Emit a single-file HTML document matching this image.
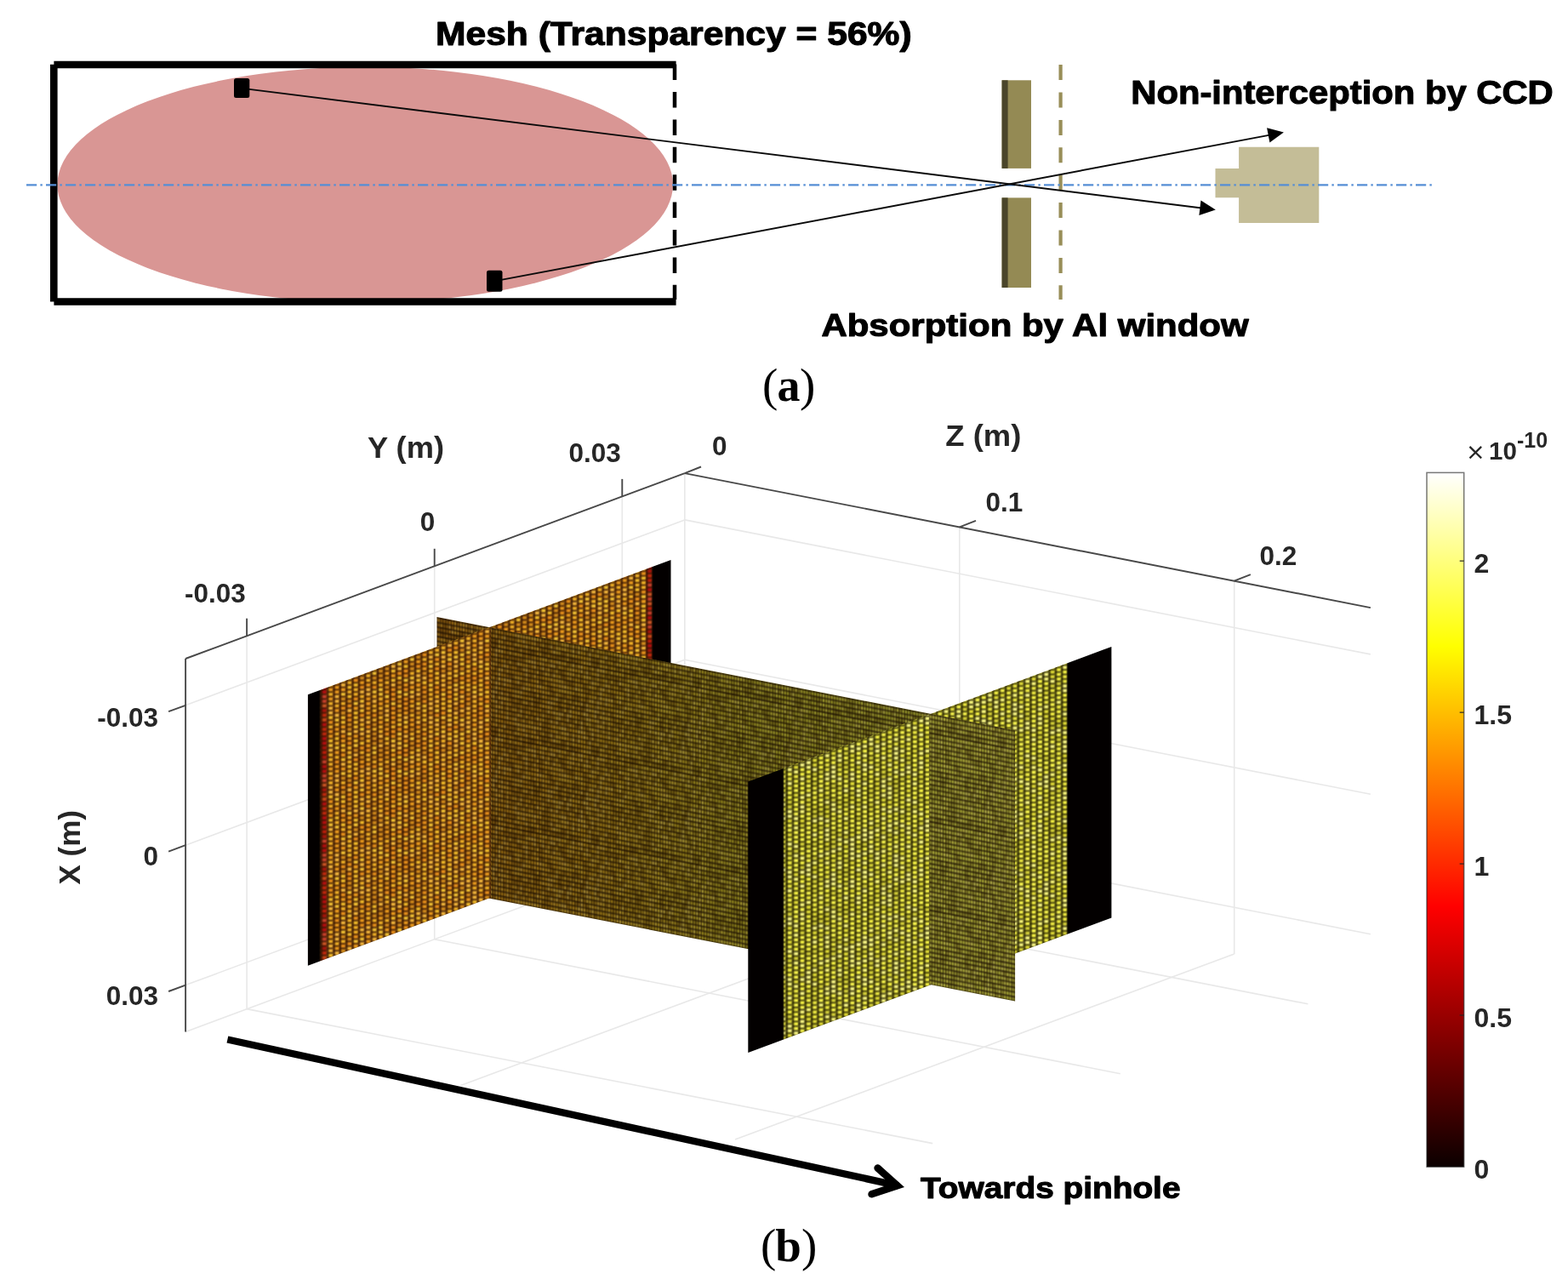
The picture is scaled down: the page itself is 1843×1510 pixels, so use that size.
<!DOCTYPE html>
<html lang="en"><head><meta charset="utf-8"><title>Figure</title>
<style>html,body{margin:0;padding:0;background:#fff;}svg{display:block;}.ab{font-family:"Liberation Sans",sans-serif;font-weight:bold;fill:#000;stroke:#000;stroke-width:1.1px;stroke-linejoin:round;}.ml{font-family:"Liberation Sans",sans-serif;font-weight:bold;fill:#262626;}.sr{font-family:"Liberation Serif",serif;fill:#000;}</style></head><body>
<svg width="1843" height="1510" viewBox="0 0 1843 1510" role="img" aria-label="Pinhole camera schematic and 3D mesh flux plot">
<rect width="1843" height="1510" fill="#fff"/>
<defs>
<linearGradient id="hot" x1="0" y1="1" x2="0" y2="0"><stop offset="0" stop-color="#0b0000"/><stop offset="0.375" stop-color="#ff0000"/><stop offset="0.75" stop-color="#ffff00"/><stop offset="1" stop-color="#ffffff"/></linearGradient>
<pattern id="mL" patternUnits="userSpaceOnUse" width="169.119" height="93.160" patternTransform="matrix(1 -0.3713 0 1 361.85 816.27)"><path d="M0.00 -6.85L7.35 -4.11V1.37L0.00 -1.37ZM0.00 9.59L7.35 12.33V17.81L0.00 15.07ZM0.00 58.91L7.35 61.65V67.13L0.00 64.39ZM0.00 64.39L7.35 67.13V72.61L0.00 69.87ZM0.00 86.31L7.35 89.05V94.53L0.00 91.79ZM7.35 20.55L14.71 23.29V28.77L7.35 26.03ZM7.35 53.43L14.71 56.17V61.65L7.35 58.91ZM14.71 31.51L22.06 34.25V39.73L14.71 36.99ZM22.06 31.51L29.41 34.25V39.73L22.06 36.99ZM22.06 58.91L29.41 61.65V67.13L22.06 64.39ZM29.41 58.91L36.77 61.65V67.13L29.41 64.39ZM36.77 -6.85L44.12 -4.11V1.37L36.77 -1.37ZM36.77 36.99L44.12 39.73V45.21L36.77 42.47ZM36.77 42.47L44.12 45.21V50.69L36.77 47.95ZM36.77 69.87L44.12 72.61V78.09L36.77 75.35ZM36.77 86.31L44.12 89.05V94.53L36.77 91.79ZM44.12 4.11L51.47 6.85V12.33L44.12 9.59ZM44.12 15.07L51.47 17.81V23.29L44.12 20.55ZM51.47 4.11L58.82 6.85V12.33L51.47 9.59ZM51.47 36.99L58.82 39.73V45.21L51.47 42.47ZM51.47 42.47L58.82 45.21V50.69L51.47 47.95ZM51.47 47.95L58.82 50.69V56.17L51.47 53.43ZM51.47 53.43L58.82 56.17V61.65L51.47 58.91ZM51.47 69.87L58.82 72.61V78.09L51.47 75.35ZM58.82 75.35L66.18 78.09V83.57L58.82 80.83ZM73.53 -6.85L80.88 -4.11V1.37L73.53 -1.37ZM73.53 86.31L80.88 89.05V94.53L73.53 91.79ZM88.24 58.91L95.59 61.65V67.13L88.24 64.39ZM88.24 80.83L95.59 83.57V89.05L88.24 86.31ZM95.59 4.11L102.94 6.85V12.33L95.59 9.59ZM95.59 15.07L102.94 17.81V23.29L95.59 20.55ZM102.94 15.07L110.30 17.81V23.29L102.94 20.55ZM102.94 69.87L110.30 72.61V78.09L102.94 75.35ZM110.30 4.11L117.65 6.85V12.33L110.30 9.59ZM125.00 15.07L132.35 17.81V23.29L125.00 20.55ZM125.00 26.03L132.35 28.77V34.25L125.00 31.51ZM125.00 53.43L132.35 56.17V61.65L125.00 58.91ZM132.35 31.51L139.71 34.25V39.73L132.35 36.99ZM132.35 58.91L139.71 61.65V67.13L132.35 64.39ZM132.35 64.39L139.71 67.13V72.61L132.35 69.87ZM132.35 75.35L139.71 78.09V83.57L132.35 80.83ZM139.71 42.47L147.06 45.21V50.69L139.71 47.95ZM147.06 26.03L154.41 28.77V34.25L147.06 31.51ZM147.06 36.99L154.41 39.73V45.21L147.06 42.47ZM147.06 80.83L154.41 83.57V89.05L147.06 86.31ZM154.41 64.39L161.77 67.13V72.61L154.41 69.87Z" fill="rgba(250,215,50,0.30)"/><path d="M0.00 4.11L7.35 6.85V12.33L0.00 9.59ZM7.35 42.47L14.71 45.21V50.69L7.35 47.95ZM7.35 58.91L14.71 61.65V67.13L7.35 64.39ZM7.35 75.35L14.71 78.09V83.57L7.35 80.83ZM14.71 69.87L22.06 72.61V78.09L14.71 75.35ZM22.06 36.99L29.41 39.73V45.21L22.06 42.47ZM22.06 47.95L29.41 50.69V56.17L22.06 53.43ZM29.41 -6.85L36.77 -4.11V1.37L29.41 -1.37ZM29.41 86.31L36.77 89.05V94.53L29.41 91.79ZM36.77 26.03L44.12 28.77V34.25L36.77 31.51ZM36.77 58.91L44.12 61.65V67.13L36.77 64.39ZM36.77 80.83L44.12 83.57V89.05L36.77 86.31ZM44.12 26.03L51.47 28.77V34.25L44.12 31.51ZM44.12 36.99L51.47 39.73V45.21L44.12 42.47ZM44.12 42.47L51.47 45.21V50.69L44.12 47.95ZM44.12 69.87L51.47 72.61V78.09L44.12 75.35ZM51.47 -1.37L58.82 1.37V6.85L51.47 4.11ZM51.47 20.55L58.82 23.29V28.77L51.47 26.03ZM51.47 91.79L58.82 94.53V100.01L51.47 97.27ZM58.82 9.59L66.18 12.33V17.81L58.82 15.07ZM58.82 42.47L66.18 45.21V50.69L58.82 47.95ZM58.82 80.83L66.18 83.57V89.05L58.82 86.31ZM66.18 -6.85L73.53 -4.11V1.37L66.18 -1.37ZM66.18 58.91L73.53 61.65V67.13L66.18 64.39ZM66.18 86.31L73.53 89.05V94.53L66.18 91.79ZM73.53 15.07L80.88 17.81V23.29L73.53 20.55ZM73.53 47.95L80.88 50.69V56.17L73.53 53.43ZM88.24 75.35L95.59 78.09V83.57L88.24 80.83ZM95.59 26.03L102.94 28.77V34.25L95.59 31.51ZM95.59 31.51L102.94 34.25V39.73L95.59 36.99ZM95.59 36.99L102.94 39.73V45.21L95.59 42.47ZM95.59 47.95L102.94 50.69V56.17L95.59 53.43ZM95.59 58.91L102.94 61.65V67.13L95.59 64.39ZM95.59 75.35L102.94 78.09V83.57L95.59 80.83ZM95.59 80.83L102.94 83.57V89.05L95.59 86.31ZM102.94 9.59L110.30 12.33V17.81L102.94 15.07ZM102.94 75.35L110.30 78.09V83.57L102.94 80.83ZM110.30 9.59L117.65 12.33V17.81L110.30 15.07ZM110.30 15.07L117.65 17.81V23.29L110.30 20.55ZM110.30 31.51L117.65 34.25V39.73L110.30 36.99ZM110.30 42.47L117.65 45.21V50.69L110.30 47.95ZM110.30 47.95L117.65 50.69V56.17L110.30 53.43ZM110.30 53.43L117.65 56.17V61.65L110.30 58.91ZM125.00 9.59L132.35 12.33V17.81L125.00 15.07ZM125.00 80.83L132.35 83.57V89.05L125.00 86.31ZM132.35 -1.37L139.71 1.37V6.85L132.35 4.11ZM132.35 9.59L139.71 12.33V17.81L132.35 15.07ZM132.35 42.47L139.71 45.21V50.69L132.35 47.95ZM132.35 53.43L139.71 56.17V61.65L132.35 58.91ZM132.35 91.79L139.71 94.53V100.01L132.35 97.27ZM147.06 9.59L154.41 12.33V17.81L147.06 15.07ZM147.06 20.55L154.41 23.29V28.77L147.06 26.03ZM147.06 42.47L154.41 45.21V50.69L147.06 47.95ZM147.06 75.35L154.41 78.09V83.57L147.06 80.83ZM154.41 75.35L161.77 78.09V83.57L154.41 80.83ZM161.77 4.11L169.12 6.85V12.33L161.77 9.59ZM161.77 20.55L169.12 23.29V28.77L161.77 26.03ZM161.77 58.91L169.12 61.65V67.13L161.77 64.39Z" fill="rgba(215,70,0,0.30)"/><path d="M0.00 15.07L7.35 17.81V23.29L0.00 20.55ZM0.00 36.99L7.35 39.73V45.21L0.00 42.47ZM0.00 47.95L7.35 50.69V56.17L0.00 53.43ZM7.35 -1.37L14.71 1.37V6.85L7.35 4.11ZM7.35 15.07L14.71 17.81V23.29L7.35 20.55ZM7.35 26.03L14.71 28.77V34.25L7.35 31.51ZM7.35 36.99L14.71 39.73V45.21L7.35 42.47ZM7.35 91.79L14.71 94.53V100.01L7.35 97.27ZM14.71 15.07L22.06 17.81V23.29L14.71 20.55ZM22.06 64.39L29.41 67.13V72.61L22.06 69.87ZM29.41 36.99L36.77 39.73V45.21L29.41 42.47ZM29.41 69.87L36.77 72.61V78.09L29.41 75.35ZM36.77 9.59L44.12 12.33V17.81L36.77 15.07ZM44.12 -6.85L51.47 -4.11V1.37L44.12 -1.37ZM44.12 58.91L51.47 61.65V67.13L44.12 64.39ZM44.12 86.31L51.47 89.05V94.53L44.12 91.79ZM51.47 26.03L58.82 28.77V34.25L51.47 31.51ZM51.47 75.35L58.82 78.09V83.57L51.47 80.83ZM58.82 26.03L66.18 28.77V34.25L58.82 31.51ZM58.82 36.99L66.18 39.73V45.21L58.82 42.47ZM58.82 58.91L66.18 61.65V67.13L58.82 64.39ZM73.53 -1.37L80.88 1.37V6.85L73.53 4.11ZM73.53 20.55L80.88 23.29V28.77L73.53 26.03ZM73.53 91.79L80.88 94.53V100.01L73.53 97.27ZM80.88 20.55L88.24 23.29V28.77L80.88 26.03ZM80.88 26.03L88.24 28.77V34.25L80.88 31.51ZM88.24 31.51L95.59 34.25V39.73L88.24 36.99ZM95.59 -6.85L102.94 -4.11V1.37L95.59 -1.37ZM95.59 42.47L102.94 45.21V50.69L95.59 47.95ZM95.59 86.31L102.94 89.05V94.53L95.59 91.79ZM102.94 -1.37L110.30 1.37V6.85L102.94 4.11ZM102.94 31.51L110.30 34.25V39.73L102.94 36.99ZM102.94 80.83L110.30 83.57V89.05L102.94 86.31ZM102.94 91.79L110.30 94.53V100.01L102.94 97.27ZM110.30 20.55L117.65 23.29V28.77L110.30 26.03ZM110.30 36.99L117.65 39.73V45.21L110.30 42.47ZM110.30 69.87L117.65 72.61V78.09L110.30 75.35ZM117.65 -1.37L125.00 1.37V6.85L117.65 4.11ZM117.65 20.55L125.00 23.29V28.77L117.65 26.03ZM117.65 36.99L125.00 39.73V45.21L117.65 42.47ZM117.65 91.79L125.00 94.53V100.01L117.65 97.27ZM139.71 15.07L147.06 17.81V23.29L139.71 20.55ZM139.71 36.99L147.06 39.73V45.21L139.71 42.47ZM147.06 4.11L154.41 6.85V12.33L147.06 9.59ZM147.06 69.87L154.41 72.61V78.09L147.06 75.35ZM154.41 4.11L161.77 6.85V12.33L154.41 9.59ZM154.41 53.43L161.77 56.17V61.65L154.41 58.91ZM154.41 80.83L161.77 83.57V89.05L154.41 86.31ZM161.77 -6.85L169.12 -4.11V1.37L161.77 -1.37ZM161.77 15.07L169.12 17.81V23.29L161.77 20.55ZM161.77 75.35L169.12 78.09V83.57L161.77 80.83ZM161.77 86.31L169.12 89.05V94.53L161.77 91.79Z" fill="rgba(255,235,80,0.34)"/><path d="M0.00 20.55L7.35 23.29V28.77L0.00 26.03ZM0.00 26.03L7.35 28.77V34.25L0.00 31.51ZM0.00 53.43L7.35 56.17V61.65L0.00 58.91ZM0.00 69.87L7.35 72.61V78.09L0.00 75.35ZM0.00 80.83L7.35 83.57V89.05L0.00 86.31ZM7.35 4.11L14.71 6.85V12.33L7.35 9.59ZM7.35 64.39L14.71 67.13V72.61L7.35 69.87ZM7.35 80.83L14.71 83.57V89.05L7.35 86.31ZM14.71 4.11L22.06 6.85V12.33L14.71 9.59ZM14.71 9.59L22.06 12.33V17.81L14.71 15.07ZM14.71 80.83L22.06 83.57V89.05L14.71 86.31ZM22.06 20.55L29.41 23.29V28.77L22.06 26.03ZM22.06 26.03L29.41 28.77V34.25L22.06 31.51ZM22.06 69.87L29.41 72.61V78.09L22.06 75.35ZM29.41 9.59L36.77 12.33V17.81L29.41 15.07ZM29.41 15.07L36.77 17.81V23.29L29.41 20.55ZM29.41 31.51L36.77 34.25V39.73L29.41 36.99ZM36.77 -1.37L44.12 1.37V6.85L36.77 4.11ZM36.77 53.43L44.12 56.17V61.65L36.77 58.91ZM36.77 91.79L44.12 94.53V100.01L36.77 97.27ZM44.12 31.51L51.47 34.25V39.73L44.12 36.99ZM51.47 -6.85L58.82 -4.11V1.37L51.47 -1.37ZM51.47 58.91L58.82 61.65V67.13L51.47 64.39ZM51.47 86.31L58.82 89.05V94.53L51.47 91.79ZM58.82 15.07L66.18 17.81V23.29L58.82 20.55ZM58.82 31.51L66.18 34.25V39.73L58.82 36.99ZM58.82 47.95L66.18 50.69V56.17L58.82 53.43ZM58.82 64.39L66.18 67.13V72.61L58.82 69.87ZM66.18 15.07L73.53 17.81V23.29L66.18 20.55ZM66.18 20.55L73.53 23.29V28.77L66.18 26.03ZM66.18 53.43L73.53 56.17V61.65L66.18 58.91ZM66.18 64.39L73.53 67.13V72.61L66.18 69.87ZM73.53 31.51L80.88 34.25V39.73L73.53 36.99ZM80.88 -6.85L88.24 -4.11V1.37L80.88 -1.37ZM80.88 75.35L88.24 78.09V83.57L80.88 80.83ZM80.88 86.31L88.24 89.05V94.53L80.88 91.79ZM88.24 47.95L95.59 50.69V56.17L88.24 53.43ZM88.24 53.43L95.59 56.17V61.65L88.24 58.91ZM95.59 -1.37L102.94 1.37V6.85L95.59 4.11ZM95.59 20.55L102.94 23.29V28.77L95.59 26.03ZM95.59 91.79L102.94 94.53V100.01L95.59 97.27ZM102.94 4.11L110.30 6.85V12.33L102.94 9.59ZM110.30 -6.85L117.65 -4.11V1.37L110.30 -1.37ZM110.30 64.39L117.65 67.13V72.61L110.30 69.87ZM110.30 86.31L117.65 89.05V94.53L110.30 91.79ZM117.65 26.03L125.00 28.77V34.25L117.65 31.51ZM117.65 42.47L125.00 45.21V50.69L117.65 47.95ZM125.00 20.55L132.35 23.29V28.77L125.00 26.03ZM125.00 42.47L132.35 45.21V50.69L125.00 47.95ZM125.00 58.91L132.35 61.65V67.13L125.00 64.39ZM125.00 75.35L132.35 78.09V83.57L125.00 80.83ZM132.35 26.03L139.71 28.77V34.25L132.35 31.51ZM139.71 4.11L147.06 6.85V12.33L139.71 9.59ZM139.71 58.91L147.06 61.65V67.13L139.71 64.39ZM139.71 64.39L147.06 67.13V72.61L139.71 69.87ZM139.71 75.35L147.06 78.09V83.57L139.71 80.83ZM139.71 80.83L147.06 83.57V89.05L139.71 86.31ZM147.06 -6.85L154.41 -4.11V1.37L147.06 -1.37ZM147.06 58.91L154.41 61.65V67.13L147.06 64.39ZM147.06 86.31L154.41 89.05V94.53L147.06 91.79ZM154.41 9.59L161.77 12.33V17.81L154.41 15.07ZM154.41 20.55L161.77 23.29V28.77L154.41 26.03ZM154.41 31.51L161.77 34.25V39.73L154.41 36.99ZM154.41 42.47L161.77 45.21V50.69L154.41 47.95ZM161.77 -1.37L169.12 1.37V6.85L161.77 4.11ZM161.77 91.79L169.12 94.53V100.01L161.77 97.27Z" fill="rgba(255,200,120,0.28)"/><path d="M0.00 42.47L7.35 45.21V50.69L0.00 47.95ZM0.00 75.35L7.35 78.09V83.57L0.00 80.83ZM7.35 -6.85L14.71 -4.11V1.37L7.35 -1.37ZM7.35 9.59L14.71 12.33V17.81L7.35 15.07ZM7.35 31.51L14.71 34.25V39.73L7.35 36.99ZM7.35 86.31L14.71 89.05V94.53L7.35 91.79ZM14.71 20.55L22.06 23.29V28.77L14.71 26.03ZM14.71 64.39L22.06 67.13V72.61L14.71 69.87ZM14.71 75.35L22.06 78.09V83.57L14.71 80.83ZM36.77 15.07L44.12 17.81V23.29L36.77 20.55ZM36.77 31.51L44.12 34.25V39.73L36.77 36.99ZM44.12 20.55L51.47 23.29V28.77L44.12 26.03ZM44.12 47.95L51.47 50.69V56.17L44.12 53.43ZM44.12 53.43L51.47 56.17V61.65L44.12 58.91ZM51.47 80.83L58.82 83.57V89.05L51.47 86.31ZM58.82 -1.37L66.18 1.37V6.85L58.82 4.11ZM58.82 69.87L66.18 72.61V78.09L58.82 75.35ZM58.82 91.79L66.18 94.53V100.01L58.82 97.27ZM73.53 4.11L80.88 6.85V12.33L73.53 9.59ZM73.53 58.91L80.88 61.65V67.13L73.53 64.39ZM73.53 69.87L80.88 72.61V78.09L73.53 75.35ZM73.53 75.35L80.88 78.09V83.57L73.53 80.83ZM73.53 80.83L80.88 83.57V89.05L73.53 86.31ZM80.88 -1.37L88.24 1.37V6.85L80.88 4.11ZM80.88 4.11L88.24 6.85V12.33L80.88 9.59ZM80.88 47.95L88.24 50.69V56.17L80.88 53.43ZM80.88 80.83L88.24 83.57V89.05L80.88 86.31ZM80.88 91.79L88.24 94.53V100.01L80.88 97.27ZM88.24 -1.37L95.59 1.37V6.85L88.24 4.11ZM88.24 9.59L95.59 12.33V17.81L88.24 15.07ZM88.24 20.55L95.59 23.29V28.77L88.24 26.03ZM88.24 64.39L95.59 67.13V72.61L88.24 69.87ZM88.24 91.79L95.59 94.53V100.01L88.24 97.27ZM102.94 20.55L110.30 23.29V28.77L102.94 26.03ZM102.94 26.03L110.30 28.77V34.25L102.94 31.51ZM102.94 42.47L110.30 45.21V50.69L102.94 47.95ZM102.94 53.43L110.30 56.17V61.65L102.94 58.91ZM117.65 4.11L125.00 6.85V12.33L117.65 9.59ZM117.65 9.59L125.00 12.33V17.81L117.65 15.07ZM117.65 58.91L125.00 61.65V67.13L117.65 64.39ZM117.65 80.83L125.00 83.57V89.05L117.65 86.31ZM125.00 -1.37L132.35 1.37V6.85L125.00 4.11ZM125.00 47.95L132.35 50.69V56.17L125.00 53.43ZM125.00 64.39L132.35 67.13V72.61L125.00 69.87ZM125.00 91.79L132.35 94.53V100.01L125.00 97.27ZM132.35 20.55L139.71 23.29V28.77L132.35 26.03ZM132.35 47.95L139.71 50.69V56.17L132.35 53.43ZM132.35 80.83L139.71 83.57V89.05L132.35 86.31ZM139.71 69.87L147.06 72.61V78.09L139.71 75.35ZM154.41 -6.85L161.77 -4.11V1.37L154.41 -1.37ZM154.41 26.03L161.77 28.77V34.25L154.41 31.51ZM154.41 86.31L161.77 89.05V94.53L154.41 91.79ZM161.77 26.03L169.12 28.77V34.25L161.77 31.51ZM161.77 42.47L169.12 45.21V50.69L161.77 47.95Z" fill="rgba(130,40,0,0.28)"/><path d="M14.71 26.03L22.06 28.77V34.25L14.71 31.51ZM14.71 42.47L22.06 45.21V50.69L14.71 47.95ZM14.71 47.95L22.06 50.69V56.17L14.71 53.43ZM22.06 -1.37L29.41 1.37V6.85L22.06 4.11ZM22.06 9.59L29.41 12.33V17.81L22.06 15.07ZM22.06 53.43L29.41 56.17V61.65L22.06 58.91ZM22.06 91.79L29.41 94.53V100.01L22.06 97.27ZM29.41 -1.37L36.77 1.37V6.85L29.41 4.11ZM29.41 4.11L36.77 6.85V12.33L29.41 9.59ZM29.41 26.03L36.77 28.77V34.25L29.41 31.51ZM29.41 47.95L36.77 50.69V56.17L29.41 53.43ZM29.41 75.35L36.77 78.09V83.57L29.41 80.83ZM29.41 91.79L36.77 94.53V100.01L29.41 97.27ZM36.77 4.11L44.12 6.85V12.33L36.77 9.59ZM36.77 47.95L44.12 50.69V56.17L36.77 53.43ZM36.77 64.39L44.12 67.13V72.61L36.77 69.87ZM44.12 64.39L51.47 67.13V72.61L44.12 69.87ZM51.47 31.51L58.82 34.25V39.73L51.47 36.99ZM51.47 64.39L58.82 67.13V72.61L51.47 69.87ZM58.82 4.11L66.18 6.85V12.33L58.82 9.59ZM66.18 9.59L73.53 12.33V17.81L66.18 15.07ZM66.18 26.03L73.53 28.77V34.25L66.18 31.51ZM66.18 31.51L73.53 34.25V39.73L66.18 36.99ZM66.18 36.99L73.53 39.73V45.21L66.18 42.47ZM66.18 42.47L73.53 45.21V50.69L66.18 47.95ZM66.18 80.83L73.53 83.57V89.05L66.18 86.31ZM80.88 9.59L88.24 12.33V17.81L80.88 15.07ZM80.88 36.99L88.24 39.73V45.21L80.88 42.47ZM80.88 58.91L88.24 61.65V67.13L80.88 64.39ZM88.24 4.11L95.59 6.85V12.33L88.24 9.59ZM88.24 26.03L95.59 28.77V34.25L88.24 31.51ZM88.24 36.99L95.59 39.73V45.21L88.24 42.47ZM88.24 69.87L95.59 72.61V78.09L88.24 75.35ZM95.59 9.59L102.94 12.33V17.81L95.59 15.07ZM95.59 53.43L102.94 56.17V61.65L95.59 58.91ZM95.59 64.39L102.94 67.13V72.61L95.59 69.87ZM110.30 -1.37L117.65 1.37V6.85L110.30 4.11ZM110.30 26.03L117.65 28.77V34.25L110.30 31.51ZM110.30 58.91L117.65 61.65V67.13L110.30 64.39ZM110.30 80.83L117.65 83.57V89.05L110.30 86.31ZM110.30 91.79L117.65 94.53V100.01L110.30 97.27ZM117.65 31.51L125.00 34.25V39.73L117.65 36.99ZM117.65 47.95L125.00 50.69V56.17L117.65 53.43ZM117.65 69.87L125.00 72.61V78.09L117.65 75.35ZM117.65 75.35L125.00 78.09V83.57L117.65 80.83ZM125.00 4.11L132.35 6.85V12.33L125.00 9.59ZM125.00 31.51L132.35 34.25V39.73L125.00 36.99ZM132.35 15.07L139.71 17.81V23.29L132.35 20.55ZM132.35 36.99L139.71 39.73V45.21L132.35 42.47ZM139.71 26.03L147.06 28.77V34.25L139.71 31.51ZM139.71 31.51L147.06 34.25V39.73L139.71 36.99ZM147.06 47.95L154.41 50.69V56.17L147.06 53.43ZM154.41 47.95L161.77 50.69V56.17L154.41 53.43ZM161.77 53.43L169.12 56.17V61.65L161.77 58.91Z" fill="rgba(225,105,5,0.30)"/><path d="M1.25 -5.48V98.64M8.60 -5.48V98.64M15.96 -5.48V98.64M23.31 -5.48V98.64M30.66 -5.48V98.64M38.02 -5.48V98.64M45.37 -5.48V98.64M52.72 -5.48V98.64M60.07 -5.48V98.64M67.43 -5.48V98.64M74.78 -5.48V98.64M82.13 -5.48V98.64M89.49 -5.48V98.64M96.84 -5.48V98.64M104.19 -5.48V98.64M111.55 -5.48V98.64M118.90 -5.48V98.64M126.25 -5.48V98.64M133.60 -5.48V98.64M140.96 -5.48V98.64M148.31 -5.48V98.64M155.66 -5.48V98.64M163.02 -5.48V98.64" stroke="rgba(55,20,2,0.88)" stroke-width="2.50" fill="none"/><path d="M0.00 -5.92L7.35 -3.19M7.35 -5.92L14.71 -3.19M14.71 -5.92L22.06 -3.19M22.06 -5.92L29.41 -3.19M29.41 -5.92L36.77 -3.19M36.77 -5.92L44.12 -3.19M44.12 -5.92L51.47 -3.19M51.47 -5.92L58.82 -3.19M58.82 -5.92L66.18 -3.19M66.18 -5.92L73.53 -3.19M73.53 -5.92L80.88 -3.19M80.88 -5.92L88.24 -3.19M88.24 -5.92L95.59 -3.19M95.59 -5.92L102.94 -3.19M102.94 -5.92L110.30 -3.19M110.30 -5.92L117.65 -3.19M117.65 -5.92L125.00 -3.19M125.00 -5.92L132.35 -3.19M132.35 -5.92L139.71 -3.19M139.71 -5.92L147.06 -3.19M147.06 -5.92L154.41 -3.19M154.41 -5.92L161.77 -3.19M161.77 -5.92L169.12 -3.19M0.00 -0.44L7.35 2.29M7.35 -0.44L14.71 2.29M14.71 -0.44L22.06 2.29M22.06 -0.44L29.41 2.29M29.41 -0.44L36.77 2.29M36.77 -0.44L44.12 2.29M44.12 -0.44L51.47 2.29M51.47 -0.44L58.82 2.29M58.82 -0.44L66.18 2.29M66.18 -0.44L73.53 2.29M73.53 -0.44L80.88 2.29M80.88 -0.44L88.24 2.29M88.24 -0.44L95.59 2.29M95.59 -0.44L102.94 2.29M102.94 -0.44L110.30 2.29M110.30 -0.44L117.65 2.29M117.65 -0.44L125.00 2.29M125.00 -0.44L132.35 2.29M132.35 -0.44L139.71 2.29M139.71 -0.44L147.06 2.29M147.06 -0.44L154.41 2.29M154.41 -0.44L161.77 2.29M161.77 -0.44L169.12 2.29M0.00 5.04L7.35 7.77M7.35 5.04L14.71 7.77M14.71 5.04L22.06 7.77M22.06 5.04L29.41 7.77M29.41 5.04L36.77 7.77M36.77 5.04L44.12 7.77M44.12 5.04L51.47 7.77M51.47 5.04L58.82 7.77M58.82 5.04L66.18 7.77M66.18 5.04L73.53 7.77M73.53 5.04L80.88 7.77M80.88 5.04L88.24 7.77M88.24 5.04L95.59 7.77M95.59 5.04L102.94 7.77M102.94 5.04L110.30 7.77M110.30 5.04L117.65 7.77M117.65 5.04L125.00 7.77M125.00 5.04L132.35 7.77M132.35 5.04L139.71 7.77M139.71 5.04L147.06 7.77M147.06 5.04L154.41 7.77M154.41 5.04L161.77 7.77M161.77 5.04L169.12 7.77M0.00 10.52L7.35 13.25M7.35 10.52L14.71 13.25M14.71 10.52L22.06 13.25M22.06 10.52L29.41 13.25M29.41 10.52L36.77 13.25M36.77 10.52L44.12 13.25M44.12 10.52L51.47 13.25M51.47 10.52L58.82 13.25M58.82 10.52L66.18 13.25M66.18 10.52L73.53 13.25M73.53 10.52L80.88 13.25M80.88 10.52L88.24 13.25M88.24 10.52L95.59 13.25M95.59 10.52L102.94 13.25M102.94 10.52L110.30 13.25M110.30 10.52L117.65 13.25M117.65 10.52L125.00 13.25M125.00 10.52L132.35 13.25M132.35 10.52L139.71 13.25M139.71 10.52L147.06 13.25M147.06 10.52L154.41 13.25M154.41 10.52L161.77 13.25M161.77 10.52L169.12 13.25M0.00 16.00L7.35 18.73M7.35 16.00L14.71 18.73M14.71 16.00L22.06 18.73M22.06 16.00L29.41 18.73M29.41 16.00L36.77 18.73M36.77 16.00L44.12 18.73M44.12 16.00L51.47 18.73M51.47 16.00L58.82 18.73M58.82 16.00L66.18 18.73M66.18 16.00L73.53 18.73M73.53 16.00L80.88 18.73M80.88 16.00L88.24 18.73M88.24 16.00L95.59 18.73M95.59 16.00L102.94 18.73M102.94 16.00L110.30 18.73M110.30 16.00L117.65 18.73M117.65 16.00L125.00 18.73M125.00 16.00L132.35 18.73M132.35 16.00L139.71 18.73M139.71 16.00L147.06 18.73M147.06 16.00L154.41 18.73M154.41 16.00L161.77 18.73M161.77 16.00L169.12 18.73M0.00 21.48L7.35 24.21M7.35 21.48L14.71 24.21M14.71 21.48L22.06 24.21M22.06 21.48L29.41 24.21M29.41 21.48L36.77 24.21M36.77 21.48L44.12 24.21M44.12 21.48L51.47 24.21M51.47 21.48L58.82 24.21M58.82 21.48L66.18 24.21M66.18 21.48L73.53 24.21M73.53 21.48L80.88 24.21M80.88 21.48L88.24 24.21M88.24 21.48L95.59 24.21M95.59 21.48L102.94 24.21M102.94 21.48L110.30 24.21M110.30 21.48L117.65 24.21M117.65 21.48L125.00 24.21M125.00 21.48L132.35 24.21M132.35 21.48L139.71 24.21M139.71 21.48L147.06 24.21M147.06 21.48L154.41 24.21M154.41 21.48L161.77 24.21M161.77 21.48L169.12 24.21M0.00 26.96L7.35 29.69M7.35 26.96L14.71 29.69M14.71 26.96L22.06 29.69M22.06 26.96L29.41 29.69M29.41 26.96L36.77 29.69M36.77 26.96L44.12 29.69M44.12 26.96L51.47 29.69M51.47 26.96L58.82 29.69M58.82 26.96L66.18 29.69M66.18 26.96L73.53 29.69M73.53 26.96L80.88 29.69M80.88 26.96L88.24 29.69M88.24 26.96L95.59 29.69M95.59 26.96L102.94 29.69M102.94 26.96L110.30 29.69M110.30 26.96L117.65 29.69M117.65 26.96L125.00 29.69M125.00 26.96L132.35 29.69M132.35 26.96L139.71 29.69M139.71 26.96L147.06 29.69M147.06 26.96L154.41 29.69M154.41 26.96L161.77 29.69M161.77 26.96L169.12 29.69M0.00 32.44L7.35 35.17M7.35 32.44L14.71 35.17M14.71 32.44L22.06 35.17M22.06 32.44L29.41 35.17M29.41 32.44L36.77 35.17M36.77 32.44L44.12 35.17M44.12 32.44L51.47 35.17M51.47 32.44L58.82 35.17M58.82 32.44L66.18 35.17M66.18 32.44L73.53 35.17M73.53 32.44L80.88 35.17M80.88 32.44L88.24 35.17M88.24 32.44L95.59 35.17M95.59 32.44L102.94 35.17M102.94 32.44L110.30 35.17M110.30 32.44L117.65 35.17M117.65 32.44L125.00 35.17M125.00 32.44L132.35 35.17M132.35 32.44L139.71 35.17M139.71 32.44L147.06 35.17M147.06 32.44L154.41 35.17M154.41 32.44L161.77 35.17M161.77 32.44L169.12 35.17M0.00 37.92L7.35 40.65M7.35 37.92L14.71 40.65M14.71 37.92L22.06 40.65M22.06 37.92L29.41 40.65M29.41 37.92L36.77 40.65M36.77 37.92L44.12 40.65M44.12 37.92L51.47 40.65M51.47 37.92L58.82 40.65M58.82 37.92L66.18 40.65M66.18 37.92L73.53 40.65M73.53 37.92L80.88 40.65M80.88 37.92L88.24 40.65M88.24 37.92L95.59 40.65M95.59 37.92L102.94 40.65M102.94 37.92L110.30 40.65M110.30 37.92L117.65 40.65M117.65 37.92L125.00 40.65M125.00 37.92L132.35 40.65M132.35 37.92L139.71 40.65M139.71 37.92L147.06 40.65M147.06 37.92L154.41 40.65M154.41 37.92L161.77 40.65M161.77 37.92L169.12 40.65M0.00 43.40L7.35 46.13M7.35 43.40L14.71 46.13M14.71 43.40L22.06 46.13M22.06 43.40L29.41 46.13M29.41 43.40L36.77 46.13M36.77 43.40L44.12 46.13M44.12 43.40L51.47 46.13M51.47 43.40L58.82 46.13M58.82 43.40L66.18 46.13M66.18 43.40L73.53 46.13M73.53 43.40L80.88 46.13M80.88 43.40L88.24 46.13M88.24 43.40L95.59 46.13M95.59 43.40L102.94 46.13M102.94 43.40L110.30 46.13M110.30 43.40L117.65 46.13M117.65 43.40L125.00 46.13M125.00 43.40L132.35 46.13M132.35 43.40L139.71 46.13M139.71 43.40L147.06 46.13M147.06 43.40L154.41 46.13M154.41 43.40L161.77 46.13M161.77 43.40L169.12 46.13M0.00 48.88L7.35 51.61M7.35 48.88L14.71 51.61M14.71 48.88L22.06 51.61M22.06 48.88L29.41 51.61M29.41 48.88L36.77 51.61M36.77 48.88L44.12 51.61M44.12 48.88L51.47 51.61M51.47 48.88L58.82 51.61M58.82 48.88L66.18 51.61M66.18 48.88L73.53 51.61M73.53 48.88L80.88 51.61M80.88 48.88L88.24 51.61M88.24 48.88L95.59 51.61M95.59 48.88L102.94 51.61M102.94 48.88L110.30 51.61M110.30 48.88L117.65 51.61M117.65 48.88L125.00 51.61M125.00 48.88L132.35 51.61M132.35 48.88L139.71 51.61M139.71 48.88L147.06 51.61M147.06 48.88L154.41 51.61M154.41 48.88L161.77 51.61M161.77 48.88L169.12 51.61M0.00 54.36L7.35 57.09M7.35 54.36L14.71 57.09M14.71 54.36L22.06 57.09M22.06 54.36L29.41 57.09M29.41 54.36L36.77 57.09M36.77 54.36L44.12 57.09M44.12 54.36L51.47 57.09M51.47 54.36L58.82 57.09M58.82 54.36L66.18 57.09M66.18 54.36L73.53 57.09M73.53 54.36L80.88 57.09M80.88 54.36L88.24 57.09M88.24 54.36L95.59 57.09M95.59 54.36L102.94 57.09M102.94 54.36L110.30 57.09M110.30 54.36L117.65 57.09M117.65 54.36L125.00 57.09M125.00 54.36L132.35 57.09M132.35 54.36L139.71 57.09M139.71 54.36L147.06 57.09M147.06 54.36L154.41 57.09M154.41 54.36L161.77 57.09M161.77 54.36L169.12 57.09M0.00 59.84L7.35 62.57M7.35 59.84L14.71 62.57M14.71 59.84L22.06 62.57M22.06 59.84L29.41 62.57M29.41 59.84L36.77 62.57M36.77 59.84L44.12 62.57M44.12 59.84L51.47 62.57M51.47 59.84L58.82 62.57M58.82 59.84L66.18 62.57M66.18 59.84L73.53 62.57M73.53 59.84L80.88 62.57M80.88 59.84L88.24 62.57M88.24 59.84L95.59 62.57M95.59 59.84L102.94 62.57M102.94 59.84L110.30 62.57M110.30 59.84L117.65 62.57M117.65 59.84L125.00 62.57M125.00 59.84L132.35 62.57M132.35 59.84L139.71 62.57M139.71 59.84L147.06 62.57M147.06 59.84L154.41 62.57M154.41 59.84L161.77 62.57M161.77 59.84L169.12 62.57M0.00 65.32L7.35 68.05M7.35 65.32L14.71 68.05M14.71 65.32L22.06 68.05M22.06 65.32L29.41 68.05M29.41 65.32L36.77 68.05M36.77 65.32L44.12 68.05M44.12 65.32L51.47 68.05M51.47 65.32L58.82 68.05M58.82 65.32L66.18 68.05M66.18 65.32L73.53 68.05M73.53 65.32L80.88 68.05M80.88 65.32L88.24 68.05M88.24 65.32L95.59 68.05M95.59 65.32L102.94 68.05M102.94 65.32L110.30 68.05M110.30 65.32L117.65 68.05M117.65 65.32L125.00 68.05M125.00 65.32L132.35 68.05M132.35 65.32L139.71 68.05M139.71 65.32L147.06 68.05M147.06 65.32L154.41 68.05M154.41 65.32L161.77 68.05M161.77 65.32L169.12 68.05M0.00 70.80L7.35 73.53M7.35 70.80L14.71 73.53M14.71 70.80L22.06 73.53M22.06 70.80L29.41 73.53M29.41 70.80L36.77 73.53M36.77 70.80L44.12 73.53M44.12 70.80L51.47 73.53M51.47 70.80L58.82 73.53M58.82 70.80L66.18 73.53M66.18 70.80L73.53 73.53M73.53 70.80L80.88 73.53M80.88 70.80L88.24 73.53M88.24 70.80L95.59 73.53M95.59 70.80L102.94 73.53M102.94 70.80L110.30 73.53M110.30 70.80L117.65 73.53M117.65 70.80L125.00 73.53M125.00 70.80L132.35 73.53M132.35 70.80L139.71 73.53M139.71 70.80L147.06 73.53M147.06 70.80L154.41 73.53M154.41 70.80L161.77 73.53M161.77 70.80L169.12 73.53M0.00 76.28L7.35 79.01M7.35 76.28L14.71 79.01M14.71 76.28L22.06 79.01M22.06 76.28L29.41 79.01M29.41 76.28L36.77 79.01M36.77 76.28L44.12 79.01M44.12 76.28L51.47 79.01M51.47 76.28L58.82 79.01M58.82 76.28L66.18 79.01M66.18 76.28L73.53 79.01M73.53 76.28L80.88 79.01M80.88 76.28L88.24 79.01M88.24 76.28L95.59 79.01M95.59 76.28L102.94 79.01M102.94 76.28L110.30 79.01M110.30 76.28L117.65 79.01M117.65 76.28L125.00 79.01M125.00 76.28L132.35 79.01M132.35 76.28L139.71 79.01M139.71 76.28L147.06 79.01M147.06 76.28L154.41 79.01M154.41 76.28L161.77 79.01M161.77 76.28L169.12 79.01M0.00 81.76L7.35 84.49M7.35 81.76L14.71 84.49M14.71 81.76L22.06 84.49M22.06 81.76L29.41 84.49M29.41 81.76L36.77 84.49M36.77 81.76L44.12 84.49M44.12 81.76L51.47 84.49M51.47 81.76L58.82 84.49M58.82 81.76L66.18 84.49M66.18 81.76L73.53 84.49M73.53 81.76L80.88 84.49M80.88 81.76L88.24 84.49M88.24 81.76L95.59 84.49M95.59 81.76L102.94 84.49M102.94 81.76L110.30 84.49M110.30 81.76L117.65 84.49M117.65 81.76L125.00 84.49M125.00 81.76L132.35 84.49M132.35 81.76L139.71 84.49M139.71 81.76L147.06 84.49M147.06 81.76L154.41 84.49M154.41 81.76L161.77 84.49M161.77 81.76L169.12 84.49M0.00 87.24L7.35 89.97M7.35 87.24L14.71 89.97M14.71 87.24L22.06 89.97M22.06 87.24L29.41 89.97M29.41 87.24L36.77 89.97M36.77 87.24L44.12 89.97M44.12 87.24L51.47 89.97M51.47 87.24L58.82 89.97M58.82 87.24L66.18 89.97M66.18 87.24L73.53 89.97M73.53 87.24L80.88 89.97M80.88 87.24L88.24 89.97M88.24 87.24L95.59 89.97M95.59 87.24L102.94 89.97M102.94 87.24L110.30 89.97M110.30 87.24L117.65 89.97M117.65 87.24L125.00 89.97M125.00 87.24L132.35 89.97M132.35 87.24L139.71 89.97M139.71 87.24L147.06 89.97M147.06 87.24L154.41 89.97M154.41 87.24L161.77 89.97M161.77 87.24L169.12 89.97M0.00 92.72L7.35 95.45M7.35 92.72L14.71 95.45M14.71 92.72L22.06 95.45M22.06 92.72L29.41 95.45M29.41 92.72L36.77 95.45M36.77 92.72L44.12 95.45M44.12 92.72L51.47 95.45M51.47 92.72L58.82 95.45M58.82 92.72L66.18 95.45M66.18 92.72L73.53 95.45M73.53 92.72L80.88 95.45M80.88 92.72L88.24 95.45M88.24 92.72L95.59 95.45M95.59 92.72L102.94 95.45M102.94 92.72L110.30 95.45M110.30 92.72L117.65 95.45M117.65 92.72L125.00 95.45M125.00 92.72L132.35 95.45M132.35 92.72L139.71 95.45M139.71 92.72L147.06 95.45M147.06 92.72L154.41 95.45M154.41 92.72L161.77 95.45M161.77 92.72L169.12 95.45M0.00 98.20L7.35 100.93M7.35 98.20L14.71 100.93M14.71 98.20L22.06 100.93M22.06 98.20L29.41 100.93M29.41 98.20L36.77 100.93M36.77 98.20L44.12 100.93M44.12 98.20L51.47 100.93M51.47 98.20L58.82 100.93M58.82 98.20L66.18 100.93M66.18 98.20L73.53 100.93M73.53 98.20L80.88 100.93M80.88 98.20L88.24 100.93M88.24 98.20L95.59 100.93M95.59 98.20L102.94 100.93M102.94 98.20L110.30 100.93M110.30 98.20L117.65 100.93M117.65 98.20L125.00 100.93M125.00 98.20L132.35 100.93M132.35 98.20L139.71 100.93M139.71 98.20L147.06 100.93M147.06 98.20L154.41 100.93M154.41 98.20L161.77 100.93M161.77 98.20L169.12 100.93" stroke="rgba(55,20,2,0.88)" stroke-width="1.85" fill="none"/></pattern>
<pattern id="mR" patternUnits="userSpaceOnUse" width="139.707" height="126.040" patternTransform="matrix(1 -0.3713 0 1 879.33 918.44)"><path d="M0.00 -1.37L7.35 1.37V6.85L0.00 4.11ZM0.00 4.11L7.35 6.85V12.33L0.00 9.59ZM0.00 97.27L7.35 100.01V105.49L0.00 102.75ZM0.00 108.23L7.35 110.97V116.45L0.00 113.71ZM0.00 124.67L7.35 127.41V132.89L0.00 130.15ZM7.35 9.59L14.71 12.33V17.81L7.35 15.07ZM7.35 42.47L14.71 45.21V50.69L7.35 47.95ZM7.35 75.35L14.71 78.09V83.57L7.35 80.83ZM7.35 108.23L14.71 110.97V116.45L7.35 113.71ZM14.71 9.59L22.06 12.33V17.81L14.71 15.07ZM14.71 53.43L22.06 56.17V61.65L14.71 58.91ZM14.71 86.31L22.06 89.05V94.53L14.71 91.79ZM14.71 97.27L22.06 100.01V105.49L14.71 102.75ZM22.06 36.99L29.41 39.73V45.21L22.06 42.47ZM22.06 53.43L29.41 56.17V61.65L22.06 58.91ZM22.06 69.87L29.41 72.61V78.09L22.06 75.35ZM22.06 75.35L29.41 78.09V83.57L22.06 80.83ZM22.06 108.23L29.41 110.97V116.45L22.06 113.71ZM22.06 113.71L29.41 116.45V121.93L22.06 119.19ZM29.41 9.59L36.77 12.33V17.81L29.41 15.07ZM29.41 108.23L36.77 110.97V116.45L29.41 113.71ZM36.77 26.03L44.12 28.77V34.25L36.77 31.51ZM36.77 36.99L44.12 39.73V45.21L36.77 42.47ZM44.12 -6.85L51.47 -4.11V1.37L44.12 -1.37ZM44.12 -1.37L51.47 1.37V6.85L44.12 4.11ZM44.12 119.19L51.47 121.93V127.41L44.12 124.67ZM44.12 124.67L51.47 127.41V132.89L44.12 130.15ZM51.47 4.11L58.82 6.85V12.33L51.47 9.59ZM51.47 69.87L58.82 72.61V78.09L51.47 75.35ZM51.47 102.75L58.82 105.49V110.97L51.47 108.23ZM58.82 36.99L66.18 39.73V45.21L58.82 42.47ZM58.82 53.43L66.18 56.17V61.65L58.82 58.91ZM58.82 108.23L66.18 110.97V116.45L58.82 113.71ZM66.18 4.11L73.53 6.85V12.33L66.18 9.59ZM66.18 36.99L73.53 39.73V45.21L66.18 42.47ZM73.53 -6.85L80.88 -4.11V1.37L73.53 -1.37ZM73.53 119.19L80.88 121.93V127.41L73.53 124.67ZM80.88 36.99L88.24 39.73V45.21L80.88 42.47ZM80.88 113.71L88.24 116.45V121.93L80.88 119.19ZM88.24 -1.37L95.59 1.37V6.85L88.24 4.11ZM88.24 20.55L95.59 23.29V28.77L88.24 26.03ZM88.24 91.79L95.59 94.53V100.01L88.24 97.27ZM88.24 97.27L95.59 100.01V105.49L88.24 102.75ZM88.24 113.71L95.59 116.45V121.93L88.24 119.19ZM88.24 124.67L95.59 127.41V132.89L88.24 130.15ZM95.59 58.91L102.94 61.65V67.13L95.59 64.39ZM95.59 64.39L102.94 67.13V72.61L95.59 69.87ZM95.59 113.71L102.94 116.45V121.93L95.59 119.19ZM102.94 4.11L110.30 6.85V12.33L102.94 9.59ZM102.94 9.59L110.30 12.33V17.81L102.94 15.07ZM102.94 69.87L110.30 72.61V78.09L102.94 75.35ZM102.94 102.75L110.30 105.49V110.97L102.94 108.23ZM110.30 80.83L117.65 83.57V89.05L110.30 86.31ZM110.30 97.27L117.65 100.01V105.49L110.30 102.75ZM110.30 108.23L117.65 110.97V116.45L110.30 113.71ZM117.65 -1.37L125.00 1.37V6.85L117.65 4.11ZM117.65 4.11L125.00 6.85V12.33L117.65 9.59ZM117.65 69.87L125.00 72.61V78.09L117.65 75.35ZM117.65 113.71L125.00 116.45V121.93L117.65 119.19ZM117.65 124.67L125.00 127.41V132.89L117.65 130.15ZM125.00 58.91L132.35 61.65V67.13L125.00 64.39ZM125.00 108.23L132.35 110.97V116.45L125.00 113.71ZM132.35 4.11L139.71 6.85V12.33L132.35 9.59ZM132.35 15.07L139.71 17.81V23.29L132.35 20.55ZM132.35 31.51L139.71 34.25V39.73L132.35 36.99ZM132.35 75.35L139.71 78.09V83.57L132.35 80.83ZM132.35 102.75L139.71 105.49V110.97L132.35 108.23ZM132.35 113.71L139.71 116.45V121.93L132.35 119.19Z" fill="rgba(255,255,200,0.40)"/><path d="M0.00 9.59L7.35 12.33V17.81L0.00 15.07ZM0.00 20.55L7.35 23.29V28.77L0.00 26.03ZM0.00 58.91L7.35 61.65V67.13L0.00 64.39ZM0.00 64.39L7.35 67.13V72.61L0.00 69.87ZM0.00 75.35L7.35 78.09V83.57L0.00 80.83ZM7.35 -6.85L14.71 -4.11V1.37L7.35 -1.37ZM7.35 31.51L14.71 34.25V39.73L7.35 36.99ZM7.35 102.75L14.71 105.49V110.97L7.35 108.23ZM7.35 119.19L14.71 121.93V127.41L7.35 124.67ZM14.71 42.47L22.06 45.21V50.69L14.71 47.95ZM14.71 47.95L22.06 50.69V56.17L14.71 53.43ZM14.71 113.71L22.06 116.45V121.93L14.71 119.19ZM22.06 -6.85L29.41 -4.11V1.37L22.06 -1.37ZM22.06 58.91L29.41 61.65V67.13L22.06 64.39ZM22.06 119.19L29.41 121.93V127.41L22.06 124.67ZM29.41 58.91L36.77 61.65V67.13L29.41 64.39ZM29.41 64.39L36.77 67.13V72.61L29.41 69.87ZM29.41 69.87L36.77 72.61V78.09L29.41 75.35ZM29.41 113.71L36.77 116.45V121.93L29.41 119.19ZM36.77 58.91L44.12 61.65V67.13L36.77 64.39ZM36.77 102.75L44.12 105.49V110.97L36.77 108.23ZM44.12 36.99L51.47 39.73V45.21L44.12 42.47ZM44.12 42.47L51.47 45.21V50.69L44.12 47.95ZM44.12 97.27L51.47 100.01V105.49L44.12 102.75ZM51.47 97.27L58.82 100.01V105.49L51.47 102.75ZM58.82 -6.85L66.18 -4.11V1.37L58.82 -1.37ZM58.82 69.87L66.18 72.61V78.09L58.82 75.35ZM58.82 91.79L66.18 94.53V100.01L58.82 97.27ZM58.82 119.19L66.18 121.93V127.41L58.82 124.67ZM66.18 97.27L73.53 100.01V105.49L66.18 102.75ZM73.53 15.07L80.88 17.81V23.29L73.53 20.55ZM73.53 26.03L80.88 28.77V34.25L73.53 31.51ZM73.53 58.91L80.88 61.65V67.13L73.53 64.39ZM73.53 64.39L80.88 67.13V72.61L73.53 69.87ZM73.53 97.27L80.88 100.01V105.49L73.53 102.75ZM73.53 113.71L80.88 116.45V121.93L73.53 119.19ZM80.88 15.07L88.24 17.81V23.29L80.88 20.55ZM80.88 64.39L88.24 67.13V72.61L80.88 69.87ZM80.88 80.83L88.24 83.57V89.05L80.88 86.31ZM88.24 47.95L95.59 50.69V56.17L88.24 53.43ZM88.24 58.91L95.59 61.65V67.13L88.24 64.39ZM88.24 108.23L95.59 110.97V116.45L88.24 113.71ZM95.59 36.99L102.94 39.73V45.21L95.59 42.47ZM95.59 53.43L102.94 56.17V61.65L95.59 58.91ZM95.59 91.79L102.94 94.53V100.01L95.59 97.27ZM95.59 102.75L102.94 105.49V110.97L95.59 108.23ZM95.59 108.23L102.94 110.97V116.45L95.59 113.71ZM102.94 -6.85L110.30 -4.11V1.37L102.94 -1.37ZM102.94 15.07L110.30 17.81V23.29L102.94 20.55ZM102.94 42.47L110.30 45.21V50.69L102.94 47.95ZM102.94 58.91L110.30 61.65V67.13L102.94 64.39ZM102.94 97.27L110.30 100.01V105.49L102.94 102.75ZM102.94 119.19L110.30 121.93V127.41L102.94 124.67ZM110.30 4.11L117.65 6.85V12.33L110.30 9.59ZM110.30 15.07L117.65 17.81V23.29L110.30 20.55ZM110.30 20.55L117.65 23.29V28.77L110.30 26.03ZM110.30 31.51L117.65 34.25V39.73L110.30 36.99ZM110.30 64.39L117.65 67.13V72.61L110.30 69.87ZM110.30 102.75L117.65 105.49V110.97L110.30 108.23ZM117.65 53.43L125.00 56.17V61.65L117.65 58.91ZM125.00 -6.85L132.35 -4.11V1.37L125.00 -1.37ZM125.00 26.03L132.35 28.77V34.25L125.00 31.51ZM125.00 69.87L132.35 72.61V78.09L125.00 75.35ZM125.00 86.31L132.35 89.05V94.53L125.00 91.79ZM125.00 119.19L132.35 121.93V127.41L125.00 124.67ZM132.35 -6.85L139.71 -4.11V1.37L132.35 -1.37ZM132.35 42.47L139.71 45.21V50.69L132.35 47.95ZM132.35 119.19L139.71 121.93V127.41L132.35 124.67Z" fill="rgba(120,110,0,0.28)"/><path d="M0.00 15.07L7.35 17.81V23.29L0.00 20.55ZM0.00 26.03L7.35 28.77V34.25L0.00 31.51ZM0.00 42.47L7.35 45.21V50.69L0.00 47.95ZM7.35 47.95L14.71 50.69V56.17L7.35 53.43ZM7.35 69.87L14.71 72.61V78.09L7.35 75.35ZM14.71 31.51L22.06 34.25V39.73L14.71 36.99ZM22.06 15.07L29.41 17.81V23.29L22.06 20.55ZM22.06 102.75L29.41 105.49V110.97L22.06 108.23ZM29.41 -1.37L36.77 1.37V6.85L29.41 4.11ZM29.41 15.07L36.77 17.81V23.29L29.41 20.55ZM29.41 36.99L36.77 39.73V45.21L29.41 42.47ZM29.41 75.35L36.77 78.09V83.57L29.41 80.83ZM29.41 80.83L36.77 83.57V89.05L29.41 86.31ZM29.41 97.27L36.77 100.01V105.49L29.41 102.75ZM29.41 124.67L36.77 127.41V132.89L29.41 130.15ZM36.77 -6.85L44.12 -4.11V1.37L36.77 -1.37ZM36.77 31.51L44.12 34.25V39.73L36.77 36.99ZM36.77 42.47L44.12 45.21V50.69L36.77 47.95ZM36.77 64.39L44.12 67.13V72.61L36.77 69.87ZM36.77 80.83L44.12 83.57V89.05L36.77 86.31ZM36.77 86.31L44.12 89.05V94.53L36.77 91.79ZM36.77 91.79L44.12 94.53V100.01L36.77 97.27ZM36.77 119.19L44.12 121.93V127.41L36.77 124.67ZM44.12 9.59L51.47 12.33V17.81L44.12 15.07ZM44.12 20.55L51.47 23.29V28.77L44.12 26.03ZM44.12 102.75L51.47 105.49V110.97L44.12 108.23ZM44.12 108.23L51.47 110.97V116.45L44.12 113.71ZM51.47 9.59L58.82 12.33V17.81L51.47 15.07ZM51.47 15.07L58.82 17.81V23.29L51.47 20.55ZM66.18 15.07L73.53 17.81V23.29L66.18 20.55ZM66.18 31.51L73.53 34.25V39.73L66.18 36.99ZM66.18 53.43L73.53 56.17V61.65L66.18 58.91ZM66.18 108.23L73.53 110.97V116.45L66.18 113.71ZM73.53 20.55L80.88 23.29V28.77L73.53 26.03ZM73.53 31.51L80.88 34.25V39.73L73.53 36.99ZM73.53 42.47L80.88 45.21V50.69L73.53 47.95ZM80.88 42.47L88.24 45.21V50.69L80.88 47.95ZM80.88 97.27L88.24 100.01V105.49L80.88 102.75ZM88.24 9.59L95.59 12.33V17.81L88.24 15.07ZM88.24 15.07L95.59 17.81V23.29L88.24 20.55ZM88.24 36.99L95.59 39.73V45.21L88.24 42.47ZM88.24 42.47L95.59 45.21V50.69L88.24 47.95ZM88.24 80.83L95.59 83.57V89.05L88.24 86.31ZM95.59 75.35L102.94 78.09V83.57L95.59 80.83ZM95.59 97.27L102.94 100.01V105.49L95.59 102.75ZM102.94 20.55L110.30 23.29V28.77L102.94 26.03ZM102.94 64.39L110.30 67.13V72.61L102.94 69.87ZM110.30 -1.37L117.65 1.37V6.85L110.30 4.11ZM110.30 26.03L117.65 28.77V34.25L110.30 31.51ZM110.30 53.43L117.65 56.17V61.65L110.30 58.91ZM110.30 69.87L117.65 72.61V78.09L110.30 75.35ZM110.30 124.67L117.65 127.41V132.89L110.30 130.15ZM117.65 20.55L125.00 23.29V28.77L117.65 26.03ZM117.65 64.39L125.00 67.13V72.61L117.65 69.87ZM117.65 97.27L125.00 100.01V105.49L117.65 102.75ZM125.00 64.39L132.35 67.13V72.61L125.00 69.87ZM125.00 80.83L132.35 83.57V89.05L125.00 86.31ZM125.00 102.75L132.35 105.49V110.97L125.00 108.23ZM132.35 20.55L139.71 23.29V28.77L132.35 26.03Z" fill="rgba(215,210,40,0.3)"/><path d="M0.00 31.51L7.35 34.25V39.73L0.00 36.99ZM0.00 113.71L7.35 116.45V121.93L0.00 119.19ZM7.35 15.07L14.71 17.81V23.29L7.35 20.55ZM14.71 -6.85L22.06 -4.11V1.37L14.71 -1.37ZM14.71 26.03L22.06 28.77V34.25L14.71 31.51ZM14.71 58.91L22.06 61.65V67.13L14.71 64.39ZM14.71 69.87L22.06 72.61V78.09L14.71 75.35ZM14.71 119.19L22.06 121.93V127.41L14.71 124.67ZM22.06 64.39L29.41 67.13V72.61L22.06 69.87ZM22.06 91.79L29.41 94.53V100.01L22.06 97.27ZM29.41 -6.85L36.77 -4.11V1.37L29.41 -1.37ZM29.41 20.55L36.77 23.29V28.77L29.41 26.03ZM29.41 26.03L36.77 28.77V34.25L29.41 31.51ZM29.41 31.51L36.77 34.25V39.73L29.41 36.99ZM29.41 47.95L36.77 50.69V56.17L29.41 53.43ZM29.41 91.79L36.77 94.53V100.01L29.41 97.27ZM29.41 119.19L36.77 121.93V127.41L29.41 124.67ZM36.77 53.43L44.12 56.17V61.65L36.77 58.91ZM36.77 97.27L44.12 100.01V105.49L36.77 102.75ZM36.77 113.71L44.12 116.45V121.93L36.77 119.19ZM44.12 15.07L51.47 17.81V23.29L44.12 20.55ZM44.12 47.95L51.47 50.69V56.17L44.12 53.43ZM44.12 53.43L51.47 56.17V61.65L44.12 58.91ZM44.12 86.31L51.47 89.05V94.53L44.12 91.79ZM51.47 58.91L58.82 61.65V67.13L51.47 64.39ZM51.47 91.79L58.82 94.53V100.01L51.47 97.27ZM58.82 -1.37L66.18 1.37V6.85L58.82 4.11ZM58.82 15.07L66.18 17.81V23.29L58.82 20.55ZM58.82 47.95L66.18 50.69V56.17L58.82 53.43ZM58.82 124.67L66.18 127.41V132.89L58.82 130.15ZM66.18 -6.85L73.53 -4.11V1.37L66.18 -1.37ZM66.18 -1.37L73.53 1.37V6.85L66.18 4.11ZM66.18 119.19L73.53 121.93V127.41L66.18 124.67ZM66.18 124.67L73.53 127.41V132.89L66.18 130.15ZM73.53 9.59L80.88 12.33V17.81L73.53 15.07ZM73.53 69.87L80.88 72.61V78.09L73.53 75.35ZM73.53 86.31L80.88 89.05V94.53L73.53 91.79ZM80.88 69.87L88.24 72.61V78.09L80.88 75.35ZM88.24 26.03L95.59 28.77V34.25L88.24 31.51ZM88.24 53.43L95.59 56.17V61.65L88.24 58.91ZM88.24 75.35L95.59 78.09V83.57L88.24 80.83ZM88.24 86.31L95.59 89.05V94.53L88.24 91.79ZM95.59 15.07L102.94 17.81V23.29L95.59 20.55ZM95.59 20.55L102.94 23.29V28.77L95.59 26.03ZM95.59 26.03L102.94 28.77V34.25L95.59 31.51ZM102.94 31.51L110.30 34.25V39.73L102.94 36.99ZM102.94 113.71L110.30 116.45V121.93L102.94 119.19ZM110.30 47.95L117.65 50.69V56.17L110.30 53.43ZM117.65 -6.85L125.00 -4.11V1.37L117.65 -1.37ZM117.65 31.51L125.00 34.25V39.73L117.65 36.99ZM117.65 36.99L125.00 39.73V45.21L117.65 42.47ZM117.65 108.23L125.00 110.97V116.45L117.65 113.71ZM117.65 119.19L125.00 121.93V127.41L117.65 124.67ZM125.00 4.11L132.35 6.85V12.33L125.00 9.59ZM125.00 20.55L132.35 23.29V28.77L125.00 26.03ZM125.00 53.43L132.35 56.17V61.65L125.00 58.91ZM132.35 26.03L139.71 28.77V34.25L132.35 31.51ZM132.35 47.95L139.71 50.69V56.17L132.35 53.43ZM132.35 108.23L139.71 110.97V116.45L132.35 113.71Z" fill="rgba(255,255,235,0.36)"/><path d="M0.00 36.99L7.35 39.73V45.21L0.00 42.47ZM0.00 47.95L7.35 50.69V56.17L0.00 53.43ZM0.00 86.31L7.35 89.05V94.53L0.00 91.79ZM7.35 -1.37L14.71 1.37V6.85L7.35 4.11ZM7.35 20.55L14.71 23.29V28.77L7.35 26.03ZM7.35 124.67L14.71 127.41V132.89L7.35 130.15ZM14.71 20.55L22.06 23.29V28.77L14.71 26.03ZM14.71 80.83L22.06 83.57V89.05L14.71 86.31ZM14.71 91.79L22.06 94.53V100.01L14.71 97.27ZM22.06 4.11L29.41 6.85V12.33L22.06 9.59ZM22.06 42.47L29.41 45.21V50.69L22.06 47.95ZM22.06 97.27L29.41 100.01V105.49L22.06 102.75ZM29.41 86.31L36.77 89.05V94.53L29.41 91.79ZM44.12 31.51L51.47 34.25V39.73L44.12 36.99ZM44.12 113.71L51.47 116.45V121.93L44.12 119.19ZM51.47 20.55L58.82 23.29V28.77L51.47 26.03ZM51.47 36.99L58.82 39.73V45.21L51.47 42.47ZM51.47 47.95L58.82 50.69V56.17L51.47 53.43ZM51.47 86.31L58.82 89.05V94.53L51.47 91.79ZM58.82 4.11L66.18 6.85V12.33L58.82 9.59ZM58.82 9.59L66.18 12.33V17.81L58.82 15.07ZM58.82 26.03L66.18 28.77V34.25L58.82 31.51ZM58.82 80.83L66.18 83.57V89.05L58.82 86.31ZM58.82 102.75L66.18 105.49V110.97L58.82 108.23ZM58.82 113.71L66.18 116.45V121.93L58.82 119.19ZM66.18 9.59L73.53 12.33V17.81L66.18 15.07ZM66.18 58.91L73.53 61.65V67.13L66.18 64.39ZM66.18 91.79L73.53 94.53V100.01L66.18 97.27ZM66.18 113.71L73.53 116.45V121.93L66.18 119.19ZM73.53 47.95L80.88 50.69V56.17L73.53 53.43ZM80.88 -1.37L88.24 1.37V6.85L80.88 4.11ZM80.88 4.11L88.24 6.85V12.33L80.88 9.59ZM80.88 9.59L88.24 12.33V17.81L80.88 15.07ZM80.88 20.55L88.24 23.29V28.77L80.88 26.03ZM80.88 86.31L88.24 89.05V94.53L80.88 91.79ZM80.88 91.79L88.24 94.53V100.01L80.88 97.27ZM80.88 102.75L88.24 105.49V110.97L80.88 108.23ZM80.88 124.67L88.24 127.41V132.89L80.88 130.15ZM88.24 4.11L95.59 6.85V12.33L88.24 9.59ZM88.24 31.51L95.59 34.25V39.73L88.24 36.99ZM95.59 -6.85L102.94 -4.11V1.37L95.59 -1.37ZM95.59 9.59L102.94 12.33V17.81L95.59 15.07ZM95.59 42.47L102.94 45.21V50.69L95.59 47.95ZM95.59 119.19L102.94 121.93V127.41L95.59 124.67ZM102.94 26.03L110.30 28.77V34.25L102.94 31.51ZM102.94 47.95L110.30 50.69V56.17L102.94 53.43ZM102.94 80.83L110.30 83.57V89.05L102.94 86.31ZM102.94 91.79L110.30 94.53V100.01L102.94 97.27ZM110.30 -6.85L117.65 -4.11V1.37L110.30 -1.37ZM110.30 75.35L117.65 78.09V83.57L110.30 80.83ZM110.30 91.79L117.65 94.53V100.01L110.30 97.27ZM110.30 119.19L117.65 121.93V127.41L110.30 124.67ZM117.65 15.07L125.00 17.81V23.29L117.65 20.55ZM117.65 80.83L125.00 83.57V89.05L117.65 86.31ZM125.00 15.07L132.35 17.81V23.29L125.00 20.55ZM125.00 31.51L132.35 34.25V39.73L125.00 36.99ZM125.00 47.95L132.35 50.69V56.17L125.00 53.43ZM125.00 113.71L132.35 116.45V121.93L125.00 119.19ZM132.35 -1.37L139.71 1.37V6.85L132.35 4.11ZM132.35 9.59L139.71 12.33V17.81L132.35 15.07ZM132.35 124.67L139.71 127.41V132.89L132.35 130.15Z" fill="rgba(250,245,50,0.32)"/><path d="M0.00 80.83L7.35 83.57V89.05L0.00 86.31ZM0.00 102.75L7.35 105.49V110.97L0.00 108.23ZM7.35 4.11L14.71 6.85V12.33L7.35 9.59ZM7.35 53.43L14.71 56.17V61.65L7.35 58.91ZM7.35 58.91L14.71 61.65V67.13L7.35 64.39ZM14.71 4.11L22.06 6.85V12.33L14.71 9.59ZM14.71 75.35L22.06 78.09V83.57L14.71 80.83ZM22.06 -1.37L29.41 1.37V6.85L22.06 4.11ZM22.06 20.55L29.41 23.29V28.77L22.06 26.03ZM22.06 31.51L29.41 34.25V39.73L22.06 36.99ZM22.06 47.95L29.41 50.69V56.17L22.06 53.43ZM22.06 80.83L29.41 83.57V89.05L22.06 86.31ZM22.06 124.67L29.41 127.41V132.89L22.06 130.15ZM36.77 -1.37L44.12 1.37V6.85L36.77 4.11ZM36.77 20.55L44.12 23.29V28.77L36.77 26.03ZM36.77 124.67L44.12 127.41V132.89L36.77 130.15ZM44.12 58.91L51.47 61.65V67.13L44.12 64.39ZM44.12 75.35L51.47 78.09V83.57L44.12 80.83ZM51.47 -1.37L58.82 1.37V6.85L51.47 4.11ZM51.47 31.51L58.82 34.25V39.73L51.47 36.99ZM51.47 124.67L58.82 127.41V132.89L51.47 130.15ZM58.82 64.39L66.18 67.13V72.61L58.82 69.87ZM66.18 20.55L73.53 23.29V28.77L66.18 26.03ZM66.18 42.47L73.53 45.21V50.69L66.18 47.95ZM66.18 47.95L73.53 50.69V56.17L66.18 53.43ZM73.53 -1.37L80.88 1.37V6.85L73.53 4.11ZM73.53 4.11L80.88 6.85V12.33L73.53 9.59ZM73.53 53.43L80.88 56.17V61.65L73.53 58.91ZM73.53 75.35L80.88 78.09V83.57L73.53 80.83ZM73.53 124.67L80.88 127.41V132.89L73.53 130.15ZM80.88 -6.85L88.24 -4.11V1.37L80.88 -1.37ZM80.88 58.91L88.24 61.65V67.13L80.88 64.39ZM80.88 119.19L88.24 121.93V127.41L80.88 124.67ZM88.24 64.39L95.59 67.13V72.61L88.24 69.87ZM88.24 69.87L95.59 72.61V78.09L88.24 75.35ZM88.24 102.75L95.59 105.49V110.97L88.24 108.23ZM95.59 -1.37L102.94 1.37V6.85L95.59 4.11ZM95.59 124.67L102.94 127.41V132.89L95.59 130.15ZM110.30 58.91L117.65 61.65V67.13L110.30 64.39ZM110.30 86.31L117.65 89.05V94.53L110.30 91.79ZM110.30 113.71L117.65 116.45V121.93L110.30 119.19ZM117.65 9.59L125.00 12.33V17.81L117.65 15.07ZM117.65 42.47L125.00 45.21V50.69L117.65 47.95ZM117.65 58.91L125.00 61.65V67.13L117.65 64.39ZM117.65 102.75L125.00 105.49V110.97L117.65 108.23Z" fill="rgba(170,160,0,0.30)"/><path d="M1.25 -5.48V131.52M8.60 -5.48V131.52M15.96 -5.48V131.52M23.31 -5.48V131.52M30.66 -5.48V131.52M38.02 -5.48V131.52M45.37 -5.48V131.52M52.72 -5.48V131.52M60.07 -5.48V131.52M67.43 -5.48V131.52M74.78 -5.48V131.52M82.13 -5.48V131.52M89.49 -5.48V131.52M96.84 -5.48V131.52M104.19 -5.48V131.52M111.55 -5.48V131.52M118.90 -5.48V131.52M126.25 -5.48V131.52M133.60 -5.48V131.52" stroke="rgba(36,32,0,0.86)" stroke-width="2.50" fill="none"/><path d="M0.00 -5.92L7.35 -3.19M7.35 -5.92L14.71 -3.19M14.71 -5.92L22.06 -3.19M22.06 -5.92L29.41 -3.19M29.41 -5.92L36.77 -3.19M36.77 -5.92L44.12 -3.19M44.12 -5.92L51.47 -3.19M51.47 -5.92L58.82 -3.19M58.82 -5.92L66.18 -3.19M66.18 -5.92L73.53 -3.19M73.53 -5.92L80.88 -3.19M80.88 -5.92L88.24 -3.19M88.24 -5.92L95.59 -3.19M95.59 -5.92L102.94 -3.19M102.94 -5.92L110.30 -3.19M110.30 -5.92L117.65 -3.19M117.65 -5.92L125.00 -3.19M125.00 -5.92L132.35 -3.19M132.35 -5.92L139.71 -3.19M0.00 -0.44L7.35 2.29M7.35 -0.44L14.71 2.29M14.71 -0.44L22.06 2.29M22.06 -0.44L29.41 2.29M29.41 -0.44L36.77 2.29M36.77 -0.44L44.12 2.29M44.12 -0.44L51.47 2.29M51.47 -0.44L58.82 2.29M58.82 -0.44L66.18 2.29M66.18 -0.44L73.53 2.29M73.53 -0.44L80.88 2.29M80.88 -0.44L88.24 2.29M88.24 -0.44L95.59 2.29M95.59 -0.44L102.94 2.29M102.94 -0.44L110.30 2.29M110.30 -0.44L117.65 2.29M117.65 -0.44L125.00 2.29M125.00 -0.44L132.35 2.29M132.35 -0.44L139.71 2.29M0.00 5.04L7.35 7.77M7.35 5.04L14.71 7.77M14.71 5.04L22.06 7.77M22.06 5.04L29.41 7.77M29.41 5.04L36.77 7.77M36.77 5.04L44.12 7.77M44.12 5.04L51.47 7.77M51.47 5.04L58.82 7.77M58.82 5.04L66.18 7.77M66.18 5.04L73.53 7.77M73.53 5.04L80.88 7.77M80.88 5.04L88.24 7.77M88.24 5.04L95.59 7.77M95.59 5.04L102.94 7.77M102.94 5.04L110.30 7.77M110.30 5.04L117.65 7.77M117.65 5.04L125.00 7.77M125.00 5.04L132.35 7.77M132.35 5.04L139.71 7.77M0.00 10.52L7.35 13.25M7.35 10.52L14.71 13.25M14.71 10.52L22.06 13.25M22.06 10.52L29.41 13.25M29.41 10.52L36.77 13.25M36.77 10.52L44.12 13.25M44.12 10.52L51.47 13.25M51.47 10.52L58.82 13.25M58.82 10.52L66.18 13.25M66.18 10.52L73.53 13.25M73.53 10.52L80.88 13.25M80.88 10.52L88.24 13.25M88.24 10.52L95.59 13.25M95.59 10.52L102.94 13.25M102.94 10.52L110.30 13.25M110.30 10.52L117.65 13.25M117.65 10.52L125.00 13.25M125.00 10.52L132.35 13.25M132.35 10.52L139.71 13.25M0.00 16.00L7.35 18.73M7.35 16.00L14.71 18.73M14.71 16.00L22.06 18.73M22.06 16.00L29.41 18.73M29.41 16.00L36.77 18.73M36.77 16.00L44.12 18.73M44.12 16.00L51.47 18.73M51.47 16.00L58.82 18.73M58.82 16.00L66.18 18.73M66.18 16.00L73.53 18.73M73.53 16.00L80.88 18.73M80.88 16.00L88.24 18.73M88.24 16.00L95.59 18.73M95.59 16.00L102.94 18.73M102.94 16.00L110.30 18.73M110.30 16.00L117.65 18.73M117.65 16.00L125.00 18.73M125.00 16.00L132.35 18.73M132.35 16.00L139.71 18.73M0.00 21.48L7.35 24.21M7.35 21.48L14.71 24.21M14.71 21.48L22.06 24.21M22.06 21.48L29.41 24.21M29.41 21.48L36.77 24.21M36.77 21.48L44.12 24.21M44.12 21.48L51.47 24.21M51.47 21.48L58.82 24.21M58.82 21.48L66.18 24.21M66.18 21.48L73.53 24.21M73.53 21.48L80.88 24.21M80.88 21.48L88.24 24.21M88.24 21.48L95.59 24.21M95.59 21.48L102.94 24.21M102.94 21.48L110.30 24.21M110.30 21.48L117.65 24.21M117.65 21.48L125.00 24.21M125.00 21.48L132.35 24.21M132.35 21.48L139.71 24.21M0.00 26.96L7.35 29.69M7.35 26.96L14.71 29.69M14.71 26.96L22.06 29.69M22.06 26.96L29.41 29.69M29.41 26.96L36.77 29.69M36.77 26.96L44.12 29.69M44.12 26.96L51.47 29.69M51.47 26.96L58.82 29.69M58.82 26.96L66.18 29.69M66.18 26.96L73.53 29.69M73.53 26.96L80.88 29.69M80.88 26.96L88.24 29.69M88.24 26.96L95.59 29.69M95.59 26.96L102.94 29.69M102.94 26.96L110.30 29.69M110.30 26.96L117.65 29.69M117.65 26.96L125.00 29.69M125.00 26.96L132.35 29.69M132.35 26.96L139.71 29.69M0.00 32.44L7.35 35.17M7.35 32.44L14.71 35.17M14.71 32.44L22.06 35.17M22.06 32.44L29.41 35.17M29.41 32.44L36.77 35.17M36.77 32.44L44.12 35.17M44.12 32.44L51.47 35.17M51.47 32.44L58.82 35.17M58.82 32.44L66.18 35.17M66.18 32.44L73.53 35.17M73.53 32.44L80.88 35.17M80.88 32.44L88.24 35.17M88.24 32.44L95.59 35.17M95.59 32.44L102.94 35.17M102.94 32.44L110.30 35.17M110.30 32.44L117.65 35.17M117.65 32.44L125.00 35.17M125.00 32.44L132.35 35.17M132.35 32.44L139.71 35.17M0.00 37.92L7.35 40.65M7.35 37.92L14.71 40.65M14.71 37.92L22.06 40.65M22.06 37.92L29.41 40.65M29.41 37.92L36.77 40.65M36.77 37.92L44.12 40.65M44.12 37.92L51.47 40.65M51.47 37.92L58.82 40.65M58.82 37.92L66.18 40.65M66.18 37.92L73.53 40.65M73.53 37.92L80.88 40.65M80.88 37.92L88.24 40.65M88.24 37.92L95.59 40.65M95.59 37.92L102.94 40.65M102.94 37.92L110.30 40.65M110.30 37.92L117.65 40.65M117.65 37.92L125.00 40.65M125.00 37.92L132.35 40.65M132.35 37.92L139.71 40.65M0.00 43.40L7.35 46.13M7.35 43.40L14.71 46.13M14.71 43.40L22.06 46.13M22.06 43.40L29.41 46.13M29.41 43.40L36.77 46.13M36.77 43.40L44.12 46.13M44.12 43.40L51.47 46.13M51.47 43.40L58.82 46.13M58.82 43.40L66.18 46.13M66.18 43.40L73.53 46.13M73.53 43.40L80.88 46.13M80.88 43.40L88.24 46.13M88.24 43.40L95.59 46.13M95.59 43.40L102.94 46.13M102.94 43.40L110.30 46.13M110.30 43.40L117.65 46.13M117.65 43.40L125.00 46.13M125.00 43.40L132.35 46.13M132.35 43.40L139.71 46.13M0.00 48.88L7.35 51.61M7.35 48.88L14.71 51.61M14.71 48.88L22.06 51.61M22.06 48.88L29.41 51.61M29.41 48.88L36.77 51.61M36.77 48.88L44.12 51.61M44.12 48.88L51.47 51.61M51.47 48.88L58.82 51.61M58.82 48.88L66.18 51.61M66.18 48.88L73.53 51.61M73.53 48.88L80.88 51.61M80.88 48.88L88.24 51.61M88.24 48.88L95.59 51.61M95.59 48.88L102.94 51.61M102.94 48.88L110.30 51.61M110.30 48.88L117.65 51.61M117.65 48.88L125.00 51.61M125.00 48.88L132.35 51.61M132.35 48.88L139.71 51.61M0.00 54.36L7.35 57.09M7.35 54.36L14.71 57.09M14.71 54.36L22.06 57.09M22.06 54.36L29.41 57.09M29.41 54.36L36.77 57.09M36.77 54.36L44.12 57.09M44.12 54.36L51.47 57.09M51.47 54.36L58.82 57.09M58.82 54.36L66.18 57.09M66.18 54.36L73.53 57.09M73.53 54.36L80.88 57.09M80.88 54.36L88.24 57.09M88.24 54.36L95.59 57.09M95.59 54.36L102.94 57.09M102.94 54.36L110.30 57.09M110.30 54.36L117.65 57.09M117.65 54.36L125.00 57.09M125.00 54.36L132.35 57.09M132.35 54.36L139.71 57.09M0.00 59.84L7.35 62.57M7.35 59.84L14.71 62.57M14.71 59.84L22.06 62.57M22.06 59.84L29.41 62.57M29.41 59.84L36.77 62.57M36.77 59.84L44.12 62.57M44.12 59.84L51.47 62.57M51.47 59.84L58.82 62.57M58.82 59.84L66.18 62.57M66.18 59.84L73.53 62.57M73.53 59.84L80.88 62.57M80.88 59.84L88.24 62.57M88.24 59.84L95.59 62.57M95.59 59.84L102.94 62.57M102.94 59.84L110.30 62.57M110.30 59.84L117.65 62.57M117.65 59.84L125.00 62.57M125.00 59.84L132.35 62.57M132.35 59.84L139.71 62.57M0.00 65.32L7.35 68.05M7.35 65.32L14.71 68.05M14.71 65.32L22.06 68.05M22.06 65.32L29.41 68.05M29.41 65.32L36.77 68.05M36.77 65.32L44.12 68.05M44.12 65.32L51.47 68.05M51.47 65.32L58.82 68.05M58.82 65.32L66.18 68.05M66.18 65.32L73.53 68.05M73.53 65.32L80.88 68.05M80.88 65.32L88.24 68.05M88.24 65.32L95.59 68.05M95.59 65.32L102.94 68.05M102.94 65.32L110.30 68.05M110.30 65.32L117.65 68.05M117.65 65.32L125.00 68.05M125.00 65.32L132.35 68.05M132.35 65.32L139.71 68.05M0.00 70.80L7.35 73.53M7.35 70.80L14.71 73.53M14.71 70.80L22.06 73.53M22.06 70.80L29.41 73.53M29.41 70.80L36.77 73.53M36.77 70.80L44.12 73.53M44.12 70.80L51.47 73.53M51.47 70.80L58.82 73.53M58.82 70.80L66.18 73.53M66.18 70.80L73.53 73.53M73.53 70.80L80.88 73.53M80.88 70.80L88.24 73.53M88.24 70.80L95.59 73.53M95.59 70.80L102.94 73.53M102.94 70.80L110.30 73.53M110.30 70.80L117.65 73.53M117.65 70.80L125.00 73.53M125.00 70.80L132.35 73.53M132.35 70.80L139.71 73.53M0.00 76.28L7.35 79.01M7.35 76.28L14.71 79.01M14.71 76.28L22.06 79.01M22.06 76.28L29.41 79.01M29.41 76.28L36.77 79.01M36.77 76.28L44.12 79.01M44.12 76.28L51.47 79.01M51.47 76.28L58.82 79.01M58.82 76.28L66.18 79.01M66.18 76.28L73.53 79.01M73.53 76.28L80.88 79.01M80.88 76.28L88.24 79.01M88.24 76.28L95.59 79.01M95.59 76.28L102.94 79.01M102.94 76.28L110.30 79.01M110.30 76.28L117.65 79.01M117.65 76.28L125.00 79.01M125.00 76.28L132.35 79.01M132.35 76.28L139.71 79.01M0.00 81.76L7.35 84.49M7.35 81.76L14.71 84.49M14.71 81.76L22.06 84.49M22.06 81.76L29.41 84.49M29.41 81.76L36.77 84.49M36.77 81.76L44.12 84.49M44.12 81.76L51.47 84.49M51.47 81.76L58.82 84.49M58.82 81.76L66.18 84.49M66.18 81.76L73.53 84.49M73.53 81.76L80.88 84.49M80.88 81.76L88.24 84.49M88.24 81.76L95.59 84.49M95.59 81.76L102.94 84.49M102.94 81.76L110.30 84.49M110.30 81.76L117.65 84.49M117.65 81.76L125.00 84.49M125.00 81.76L132.35 84.49M132.35 81.76L139.71 84.49M0.00 87.24L7.35 89.97M7.35 87.24L14.71 89.97M14.71 87.24L22.06 89.97M22.06 87.24L29.41 89.97M29.41 87.24L36.77 89.97M36.77 87.24L44.12 89.97M44.12 87.24L51.47 89.97M51.47 87.24L58.82 89.97M58.82 87.24L66.18 89.97M66.18 87.24L73.53 89.97M73.53 87.24L80.88 89.97M80.88 87.24L88.24 89.97M88.24 87.24L95.59 89.97M95.59 87.24L102.94 89.97M102.94 87.24L110.30 89.97M110.30 87.24L117.65 89.97M117.65 87.24L125.00 89.97M125.00 87.24L132.35 89.97M132.35 87.24L139.71 89.97M0.00 92.72L7.35 95.45M7.35 92.72L14.71 95.45M14.71 92.72L22.06 95.45M22.06 92.72L29.41 95.45M29.41 92.72L36.77 95.45M36.77 92.72L44.12 95.45M44.12 92.72L51.47 95.45M51.47 92.72L58.82 95.45M58.82 92.72L66.18 95.45M66.18 92.72L73.53 95.45M73.53 92.72L80.88 95.45M80.88 92.72L88.24 95.45M88.24 92.72L95.59 95.45M95.59 92.72L102.94 95.45M102.94 92.72L110.30 95.45M110.30 92.72L117.65 95.45M117.65 92.72L125.00 95.45M125.00 92.72L132.35 95.45M132.35 92.72L139.71 95.45M0.00 98.20L7.35 100.93M7.35 98.20L14.71 100.93M14.71 98.20L22.06 100.93M22.06 98.20L29.41 100.93M29.41 98.20L36.77 100.93M36.77 98.20L44.12 100.93M44.12 98.20L51.47 100.93M51.47 98.20L58.82 100.93M58.82 98.20L66.18 100.93M66.18 98.20L73.53 100.93M73.53 98.20L80.88 100.93M80.88 98.20L88.24 100.93M88.24 98.20L95.59 100.93M95.59 98.20L102.94 100.93M102.94 98.20L110.30 100.93M110.30 98.20L117.65 100.93M117.65 98.20L125.00 100.93M125.00 98.20L132.35 100.93M132.35 98.20L139.71 100.93M0.00 103.68L7.35 106.41M7.35 103.68L14.71 106.41M14.71 103.68L22.06 106.41M22.06 103.68L29.41 106.41M29.41 103.68L36.77 106.41M36.77 103.68L44.12 106.41M44.12 103.68L51.47 106.41M51.47 103.68L58.82 106.41M58.82 103.68L66.18 106.41M66.18 103.68L73.53 106.41M73.53 103.68L80.88 106.41M80.88 103.68L88.24 106.41M88.24 103.68L95.59 106.41M95.59 103.68L102.94 106.41M102.94 103.68L110.30 106.41M110.30 103.68L117.65 106.41M117.65 103.68L125.00 106.41M125.00 103.68L132.35 106.41M132.35 103.68L139.71 106.41M0.00 109.16L7.35 111.89M7.35 109.16L14.71 111.89M14.71 109.16L22.06 111.89M22.06 109.16L29.41 111.89M29.41 109.16L36.77 111.89M36.77 109.16L44.12 111.89M44.12 109.16L51.47 111.89M51.47 109.16L58.82 111.89M58.82 109.16L66.18 111.89M66.18 109.16L73.53 111.89M73.53 109.16L80.88 111.89M80.88 109.16L88.24 111.89M88.24 109.16L95.59 111.89M95.59 109.16L102.94 111.89M102.94 109.16L110.30 111.89M110.30 109.16L117.65 111.89M117.65 109.16L125.00 111.89M125.00 109.16L132.35 111.89M132.35 109.16L139.71 111.89M0.00 114.64L7.35 117.37M7.35 114.64L14.71 117.37M14.71 114.64L22.06 117.37M22.06 114.64L29.41 117.37M29.41 114.64L36.77 117.37M36.77 114.64L44.12 117.37M44.12 114.64L51.47 117.37M51.47 114.64L58.82 117.37M58.82 114.64L66.18 117.37M66.18 114.64L73.53 117.37M73.53 114.64L80.88 117.37M80.88 114.64L88.24 117.37M88.24 114.64L95.59 117.37M95.59 114.64L102.94 117.37M102.94 114.64L110.30 117.37M110.30 114.64L117.65 117.37M117.65 114.64L125.00 117.37M125.00 114.64L132.35 117.37M132.35 114.64L139.71 117.37M0.00 120.12L7.35 122.85M7.35 120.12L14.71 122.85M14.71 120.12L22.06 122.85M22.06 120.12L29.41 122.85M29.41 120.12L36.77 122.85M36.77 120.12L44.12 122.85M44.12 120.12L51.47 122.85M51.47 120.12L58.82 122.85M58.82 120.12L66.18 122.85M66.18 120.12L73.53 122.85M73.53 120.12L80.88 122.85M80.88 120.12L88.24 122.85M88.24 120.12L95.59 122.85M95.59 120.12L102.94 122.85M102.94 120.12L110.30 122.85M110.30 120.12L117.65 122.85M117.65 120.12L125.00 122.85M125.00 120.12L132.35 122.85M132.35 120.12L139.71 122.85M0.00 125.60L7.35 128.33M7.35 125.60L14.71 128.33M14.71 125.60L22.06 128.33M22.06 125.60L29.41 128.33M29.41 125.60L36.77 128.33M36.77 125.60L44.12 128.33M44.12 125.60L51.47 128.33M51.47 125.60L58.82 128.33M58.82 125.60L66.18 128.33M66.18 125.60L73.53 128.33M73.53 125.60L80.88 128.33M80.88 125.60L88.24 128.33M88.24 125.60L95.59 128.33M95.59 125.60L102.94 128.33M102.94 125.60L110.30 128.33M110.30 125.60L117.65 128.33M117.65 125.60L125.00 128.33M125.00 125.60L132.35 128.33M132.35 125.60L139.71 128.33M0.00 131.08L7.35 133.81M7.35 131.08L14.71 133.81M14.71 131.08L22.06 133.81M22.06 131.08L29.41 133.81M29.41 131.08L36.77 133.81M36.77 131.08L44.12 133.81M44.12 131.08L51.47 133.81M51.47 131.08L58.82 133.81M58.82 131.08L66.18 133.81M66.18 131.08L73.53 133.81M73.53 131.08L80.88 133.81M80.88 131.08L88.24 133.81M88.24 131.08L95.59 133.81M95.59 131.08L102.94 133.81M102.94 131.08L110.30 133.81M110.30 131.08L117.65 133.81M117.65 131.08L125.00 133.81M125.00 131.08L132.35 133.81M132.35 131.08L139.71 133.81" stroke="rgba(36,32,0,0.86)" stroke-width="1.85" fill="none"/></pattern>
<pattern id="mM" patternUnits="userSpaceOnUse" width="119.492" height="104.120" patternTransform="matrix(1 0.1960 0 1 513.51 725.03)"><path d="M0.00 -5.48L3.23 -5.48V0.00L0.00 0.00ZM0.00 0.00L3.23 0.00V5.48L0.00 5.48ZM0.00 98.64L3.23 98.64V104.12L0.00 104.12ZM0.00 104.12L3.23 104.12V109.60L0.00 109.60ZM3.23 27.40L6.46 27.40V32.88L3.23 32.88ZM3.23 60.28L6.46 60.28V65.76L3.23 65.76ZM3.23 65.76L6.46 65.76V71.24L3.23 71.24ZM3.23 76.72L6.46 76.72V82.20L3.23 82.20ZM3.23 87.68L6.46 87.68V93.16L3.23 93.16ZM6.46 38.36L9.69 38.36V43.84L6.46 43.84ZM9.69 32.88L12.92 32.88V38.36L9.69 38.36ZM9.69 60.28L12.92 60.28V65.76L9.69 65.76ZM9.69 76.72L12.92 76.72V82.20L9.69 82.20ZM12.92 21.92L16.15 21.92V27.40L12.92 27.40ZM12.92 43.84L16.15 43.84V49.32L12.92 49.32ZM12.92 76.72L16.15 76.72V82.20L12.92 82.20ZM16.15 -5.48L19.38 -5.48V0.00L16.15 0.00ZM16.15 71.24L19.38 71.24V76.72L16.15 76.72ZM16.15 98.64L19.38 98.64V104.12L16.15 104.12ZM19.38 5.48L22.61 5.48V10.96L19.38 10.96ZM19.38 21.92L22.61 21.92V27.40L19.38 27.40ZM22.61 43.84L25.84 43.84V49.32L22.61 49.32ZM22.61 49.32L25.84 49.32V54.80L22.61 54.80ZM25.84 0.00L29.07 0.00V5.48L25.84 5.48ZM25.84 43.84L29.07 43.84V49.32L25.84 49.32ZM25.84 49.32L29.07 49.32V54.80L25.84 54.80ZM25.84 104.12L29.07 104.12V109.60L25.84 109.60ZM29.07 5.48L32.30 5.48V10.96L29.07 10.96ZM29.07 76.72L32.30 76.72V82.20L29.07 82.20ZM32.30 10.96L35.52 10.96V16.44L32.30 16.44ZM35.52 32.88L38.75 32.88V38.36L35.52 38.36ZM35.52 38.36L38.75 38.36V43.84L35.52 43.84ZM35.52 65.76L38.75 65.76V71.24L35.52 71.24ZM35.52 93.16L38.75 93.16V98.64L35.52 98.64ZM38.75 0.00L41.98 0.00V5.48L38.75 5.48ZM38.75 27.40L41.98 27.40V32.88L38.75 32.88ZM38.75 32.88L41.98 32.88V38.36L38.75 38.36ZM38.75 71.24L41.98 71.24V76.72L38.75 76.72ZM38.75 104.12L41.98 104.12V109.60L38.75 109.60ZM45.21 0.00L48.44 0.00V5.48L45.21 5.48ZM45.21 21.92L48.44 21.92V27.40L45.21 27.40ZM45.21 76.72L48.44 76.72V82.20L45.21 82.20ZM45.21 104.12L48.44 104.12V109.60L45.21 109.60ZM51.67 -5.48L54.90 -5.48V0.00L51.67 0.00ZM51.67 16.44L54.90 16.44V21.92L51.67 21.92ZM51.67 98.64L54.90 98.64V104.12L51.67 104.12ZM54.90 0.00L58.13 0.00V5.48L54.90 5.48ZM54.90 104.12L58.13 104.12V109.60L54.90 109.60ZM58.13 10.96L61.36 10.96V16.44L58.13 16.44ZM58.13 60.28L61.36 60.28V65.76L58.13 65.76ZM61.36 0.00L64.59 0.00V5.48L61.36 5.48ZM61.36 21.92L64.59 21.92V27.40L61.36 27.40ZM61.36 43.84L64.59 43.84V49.32L61.36 49.32ZM61.36 93.16L64.59 93.16V98.64L61.36 98.64ZM61.36 104.12L64.59 104.12V109.60L61.36 109.60ZM67.82 -5.48L71.05 -5.48V0.00L67.82 0.00ZM67.82 5.48L71.05 5.48V10.96L67.82 10.96ZM67.82 32.88L71.05 32.88V38.36L67.82 38.36ZM67.82 38.36L71.05 38.36V43.84L67.82 43.84ZM67.82 87.68L71.05 87.68V93.16L67.82 93.16ZM67.82 98.64L71.05 98.64V104.12L67.82 104.12ZM71.05 10.96L74.28 10.96V16.44L71.05 16.44ZM71.05 21.92L74.28 21.92V27.40L71.05 27.40ZM71.05 43.84L74.28 43.84V49.32L71.05 49.32ZM71.05 60.28L74.28 60.28V65.76L71.05 65.76ZM71.05 76.72L74.28 76.72V82.20L71.05 82.20ZM71.05 87.68L74.28 87.68V93.16L71.05 93.16ZM74.28 93.16L77.51 93.16V98.64L74.28 98.64ZM77.51 16.44L80.74 16.44V21.92L77.51 21.92ZM77.51 76.72L80.74 76.72V82.20L77.51 82.20ZM80.74 38.36L83.97 38.36V43.84L80.74 43.84ZM80.74 43.84L83.97 43.84V49.32L80.74 49.32ZM80.74 54.80L83.97 54.80V60.28L80.74 60.28ZM80.74 71.24L83.97 71.24V76.72L80.74 76.72ZM80.74 87.68L83.97 87.68V93.16L80.74 93.16ZM90.43 0.00L93.66 0.00V5.48L90.43 5.48ZM90.43 10.96L93.66 10.96V16.44L90.43 16.44ZM90.43 65.76L93.66 65.76V71.24L90.43 71.24ZM90.43 71.24L93.66 71.24V76.72L90.43 76.72ZM90.43 104.12L93.66 104.12V109.60L90.43 109.60ZM93.66 93.16L96.89 93.16V98.64L93.66 98.64ZM96.89 16.44L100.11 16.44V21.92L96.89 21.92ZM100.11 0.00L103.34 0.00V5.48L100.11 5.48ZM100.11 38.36L103.34 38.36V43.84L100.11 43.84ZM100.11 104.12L103.34 104.12V109.60L100.11 109.60ZM103.34 0.00L106.57 0.00V5.48L103.34 5.48ZM103.34 49.32L106.57 49.32V54.80L103.34 54.80ZM103.34 76.72L106.57 76.72V82.20L103.34 82.20ZM103.34 104.12L106.57 104.12V109.60L103.34 109.60ZM106.57 27.40L109.80 27.40V32.88L106.57 32.88ZM109.80 76.72L113.03 76.72V82.20L109.80 82.20ZM113.03 5.48L116.26 5.48V10.96L113.03 10.96ZM113.03 43.84L116.26 43.84V49.32L113.03 49.32ZM113.03 60.28L116.26 60.28V65.76L113.03 65.76ZM116.26 10.96L119.49 10.96V16.44L116.26 16.44ZM116.26 38.36L119.49 38.36V43.84L116.26 43.84ZM116.26 49.32L119.49 49.32V54.80L116.26 54.80ZM116.26 54.80L119.49 54.80V60.28L116.26 60.28Z" fill="rgba(255,230,120,0.18)"/><path d="M0.00 5.48L3.23 5.48V10.96L0.00 10.96ZM0.00 10.96L3.23 10.96V16.44L0.00 16.44ZM0.00 32.88L3.23 32.88V38.36L0.00 38.36ZM0.00 43.84L3.23 43.84V49.32L0.00 49.32ZM0.00 87.68L3.23 87.68V93.16L0.00 93.16ZM3.23 -5.48L6.46 -5.48V0.00L3.23 0.00ZM3.23 38.36L6.46 38.36V43.84L3.23 43.84ZM3.23 98.64L6.46 98.64V104.12L3.23 104.12ZM6.46 0.00L9.69 0.00V5.48L6.46 5.48ZM6.46 27.40L9.69 27.40V32.88L6.46 32.88ZM6.46 87.68L9.69 87.68V93.16L6.46 93.16ZM6.46 104.12L9.69 104.12V109.60L6.46 109.60ZM9.69 -5.48L12.92 -5.48V0.00L9.69 0.00ZM9.69 65.76L12.92 65.76V71.24L9.69 71.24ZM9.69 87.68L12.92 87.68V93.16L9.69 93.16ZM9.69 98.64L12.92 98.64V104.12L9.69 104.12ZM12.92 60.28L16.15 60.28V65.76L12.92 65.76ZM16.15 87.68L19.38 87.68V93.16L16.15 93.16ZM16.15 93.16L19.38 93.16V98.64L16.15 98.64ZM22.61 65.76L25.84 65.76V71.24L22.61 71.24ZM25.84 60.28L29.07 60.28V65.76L25.84 65.76ZM25.84 87.68L29.07 87.68V93.16L25.84 93.16ZM29.07 32.88L32.30 32.88V38.36L29.07 38.36ZM32.30 -5.48L35.52 -5.48V0.00L32.30 0.00ZM32.30 21.92L35.52 21.92V27.40L32.30 27.40ZM32.30 65.76L35.52 65.76V71.24L32.30 71.24ZM32.30 71.24L35.52 71.24V76.72L32.30 76.72ZM32.30 93.16L35.52 93.16V98.64L32.30 98.64ZM32.30 98.64L35.52 98.64V104.12L32.30 104.12ZM35.52 5.48L38.75 5.48V10.96L35.52 10.96ZM35.52 10.96L38.75 10.96V16.44L35.52 16.44ZM35.52 21.92L38.75 21.92V27.40L35.52 27.40ZM35.52 71.24L38.75 71.24V76.72L35.52 76.72ZM38.75 49.32L41.98 49.32V54.80L38.75 54.80ZM41.98 0.00L45.21 0.00V5.48L41.98 5.48ZM41.98 16.44L45.21 16.44V21.92L41.98 21.92ZM41.98 104.12L45.21 104.12V109.60L41.98 109.60ZM45.21 16.44L48.44 16.44V21.92L45.21 21.92ZM45.21 82.20L48.44 82.20V87.68L45.21 87.68ZM48.44 76.72L51.67 76.72V82.20L48.44 82.20ZM51.67 60.28L54.90 60.28V65.76L51.67 65.76ZM51.67 93.16L54.90 93.16V98.64L51.67 98.64ZM54.90 43.84L58.13 43.84V49.32L54.90 49.32ZM54.90 49.32L58.13 49.32V54.80L54.90 54.80ZM58.13 -5.48L61.36 -5.48V0.00L58.13 0.00ZM58.13 76.72L61.36 76.72V82.20L58.13 82.20ZM58.13 98.64L61.36 98.64V104.12L58.13 104.12ZM61.36 5.48L64.59 5.48V10.96L61.36 10.96ZM64.59 60.28L67.82 60.28V65.76L64.59 65.76ZM64.59 65.76L67.82 65.76V71.24L64.59 71.24ZM71.05 71.24L74.28 71.24V76.72L71.05 76.72ZM74.28 60.28L77.51 60.28V65.76L74.28 65.76ZM77.51 0.00L80.74 0.00V5.48L77.51 5.48ZM77.51 71.24L80.74 71.24V76.72L77.51 76.72ZM77.51 82.20L80.74 82.20V87.68L77.51 87.68ZM77.51 93.16L80.74 93.16V98.64L77.51 98.64ZM77.51 104.12L80.74 104.12V109.60L77.51 109.60ZM80.74 27.40L83.97 27.40V32.88L80.74 32.88ZM80.74 49.32L83.97 49.32V54.80L80.74 54.80ZM83.97 -5.48L87.20 -5.48V0.00L83.97 0.00ZM83.97 43.84L87.20 43.84V49.32L83.97 49.32ZM83.97 76.72L87.20 76.72V82.20L83.97 82.20ZM83.97 93.16L87.20 93.16V98.64L83.97 98.64ZM83.97 98.64L87.20 98.64V104.12L83.97 104.12ZM87.20 21.92L90.43 21.92V27.40L87.20 27.40ZM90.43 93.16L93.66 93.16V98.64L90.43 98.64ZM93.66 -5.48L96.89 -5.48V0.00L93.66 0.00ZM93.66 27.40L96.89 27.40V32.88L93.66 32.88ZM93.66 98.64L96.89 98.64V104.12L93.66 104.12ZM96.89 -5.48L100.11 -5.48V0.00L96.89 0.00ZM96.89 54.80L100.11 54.80V60.28L96.89 60.28ZM96.89 60.28L100.11 60.28V65.76L96.89 65.76ZM96.89 98.64L100.11 98.64V104.12L96.89 104.12ZM100.11 43.84L103.34 43.84V49.32L100.11 49.32ZM100.11 54.80L103.34 54.80V60.28L100.11 60.28ZM100.11 82.20L103.34 82.20V87.68L100.11 87.68ZM106.57 5.48L109.80 5.48V10.96L106.57 10.96ZM106.57 38.36L109.80 38.36V43.84L106.57 43.84ZM106.57 65.76L109.80 65.76V71.24L106.57 71.24ZM106.57 82.20L109.80 82.20V87.68L106.57 87.68ZM109.80 21.92L113.03 21.92V27.40L109.80 27.40ZM109.80 60.28L113.03 60.28V65.76L109.80 65.76ZM109.80 65.76L113.03 65.76V71.24L109.80 71.24ZM113.03 82.20L116.26 82.20V87.68L113.03 87.68ZM116.26 -5.48L119.49 -5.48V0.00L116.26 0.00ZM116.26 27.40L119.49 27.40V32.88L116.26 32.88ZM116.26 43.84L119.49 43.84V49.32L116.26 49.32ZM116.26 82.20L119.49 82.20V87.68L116.26 87.68ZM116.26 87.68L119.49 87.68V93.16L116.26 93.16ZM116.26 98.64L119.49 98.64V104.12L116.26 104.12Z" fill="rgba(30,10,0,0.16)"/><path d="M0.00 16.44L3.23 16.44V21.92L0.00 21.92ZM0.00 27.40L3.23 27.40V32.88L0.00 32.88ZM3.23 5.48L6.46 5.48V10.96L3.23 10.96ZM3.23 21.92L6.46 21.92V27.40L3.23 27.40ZM3.23 54.80L6.46 54.80V60.28L3.23 60.28ZM3.23 93.16L6.46 93.16V98.64L3.23 98.64ZM6.46 21.92L9.69 21.92V27.40L6.46 27.40ZM9.69 38.36L12.92 38.36V43.84L9.69 43.84ZM16.15 49.32L19.38 49.32V54.80L16.15 54.80ZM19.38 0.00L22.61 0.00V5.48L19.38 5.48ZM19.38 10.96L22.61 10.96V16.44L19.38 16.44ZM19.38 32.88L22.61 32.88V38.36L19.38 38.36ZM19.38 43.84L22.61 43.84V49.32L19.38 49.32ZM19.38 60.28L22.61 60.28V65.76L19.38 65.76ZM19.38 82.20L22.61 82.20V87.68L19.38 87.68ZM19.38 87.68L22.61 87.68V93.16L19.38 93.16ZM19.38 104.12L22.61 104.12V109.60L19.38 109.60ZM22.61 -5.48L25.84 -5.48V0.00L22.61 0.00ZM22.61 5.48L25.84 5.48V10.96L22.61 10.96ZM22.61 10.96L25.84 10.96V16.44L22.61 16.44ZM22.61 27.40L25.84 27.40V32.88L22.61 32.88ZM22.61 38.36L25.84 38.36V43.84L22.61 43.84ZM22.61 54.80L25.84 54.80V60.28L22.61 60.28ZM22.61 98.64L25.84 98.64V104.12L22.61 104.12ZM25.84 54.80L29.07 54.80V60.28L25.84 60.28ZM29.07 0.00L32.30 0.00V5.48L29.07 5.48ZM29.07 21.92L32.30 21.92V27.40L29.07 27.40ZM29.07 54.80L32.30 54.80V60.28L29.07 60.28ZM29.07 65.76L32.30 65.76V71.24L29.07 71.24ZM29.07 104.12L32.30 104.12V109.60L29.07 109.60ZM32.30 16.44L35.52 16.44V21.92L32.30 21.92ZM32.30 32.88L35.52 32.88V38.36L32.30 38.36ZM32.30 49.32L35.52 49.32V54.80L32.30 54.80ZM32.30 54.80L35.52 54.80V60.28L32.30 60.28ZM35.52 27.40L38.75 27.40V32.88L35.52 32.88ZM35.52 54.80L38.75 54.80V60.28L35.52 60.28ZM38.75 10.96L41.98 10.96V16.44L38.75 16.44ZM41.98 65.76L45.21 65.76V71.24L41.98 71.24ZM41.98 87.68L45.21 87.68V93.16L41.98 93.16ZM45.21 32.88L48.44 32.88V38.36L45.21 38.36ZM45.21 49.32L48.44 49.32V54.80L45.21 54.80ZM48.44 49.32L51.67 49.32V54.80L48.44 54.80ZM48.44 54.80L51.67 54.80V60.28L48.44 60.28ZM51.67 32.88L54.90 32.88V38.36L51.67 38.36ZM54.90 16.44L58.13 16.44V21.92L54.90 21.92ZM54.90 87.68L58.13 87.68V93.16L54.90 93.16ZM58.13 32.88L61.36 32.88V38.36L58.13 38.36ZM58.13 43.84L61.36 43.84V49.32L58.13 49.32ZM58.13 87.68L61.36 87.68V93.16L58.13 93.16ZM58.13 93.16L61.36 93.16V98.64L58.13 98.64ZM61.36 71.24L64.59 71.24V76.72L61.36 76.72ZM64.59 38.36L67.82 38.36V43.84L64.59 43.84ZM64.59 54.80L67.82 54.80V60.28L64.59 60.28ZM64.59 82.20L67.82 82.20V87.68L64.59 87.68ZM67.82 0.00L71.05 0.00V5.48L67.82 5.48ZM67.82 104.12L71.05 104.12V109.60L67.82 109.60ZM71.05 16.44L74.28 16.44V21.92L71.05 21.92ZM74.28 10.96L77.51 10.96V16.44L74.28 16.44ZM74.28 76.72L77.51 76.72V82.20L74.28 82.20ZM74.28 87.68L77.51 87.68V93.16L74.28 93.16ZM77.51 32.88L80.74 32.88V38.36L77.51 38.36ZM80.74 76.72L83.97 76.72V82.20L80.74 82.20ZM80.74 82.20L83.97 82.20V87.68L80.74 87.68ZM80.74 93.16L83.97 93.16V98.64L80.74 98.64ZM83.97 21.92L87.20 21.92V27.40L83.97 27.40ZM83.97 32.88L87.20 32.88V38.36L83.97 38.36ZM90.43 21.92L93.66 21.92V27.40L90.43 27.40ZM90.43 49.32L93.66 49.32V54.80L90.43 54.80ZM90.43 87.68L93.66 87.68V93.16L90.43 93.16ZM93.66 5.48L96.89 5.48V10.96L93.66 10.96ZM93.66 10.96L96.89 10.96V16.44L93.66 16.44ZM93.66 49.32L96.89 49.32V54.80L93.66 54.80ZM93.66 65.76L96.89 65.76V71.24L93.66 71.24ZM93.66 71.24L96.89 71.24V76.72L93.66 76.72ZM96.89 0.00L100.11 0.00V5.48L96.89 5.48ZM96.89 21.92L100.11 21.92V27.40L96.89 27.40ZM96.89 32.88L100.11 32.88V38.36L96.89 38.36ZM96.89 49.32L100.11 49.32V54.80L96.89 54.80ZM96.89 71.24L100.11 71.24V76.72L96.89 76.72ZM96.89 93.16L100.11 93.16V98.64L96.89 98.64ZM96.89 104.12L100.11 104.12V109.60L96.89 109.60ZM100.11 -5.48L103.34 -5.48V0.00L100.11 0.00ZM100.11 76.72L103.34 76.72V82.20L100.11 82.20ZM100.11 98.64L103.34 98.64V104.12L100.11 104.12ZM103.34 27.40L106.57 27.40V32.88L103.34 32.88ZM103.34 32.88L106.57 32.88V38.36L103.34 38.36ZM103.34 54.80L106.57 54.80V60.28L103.34 60.28ZM103.34 60.28L106.57 60.28V65.76L103.34 65.76ZM103.34 93.16L106.57 93.16V98.64L103.34 98.64ZM106.57 0.00L109.80 0.00V5.48L106.57 5.48ZM106.57 60.28L109.80 60.28V65.76L106.57 65.76ZM106.57 104.12L109.80 104.12V109.60L106.57 109.60ZM109.80 -5.48L113.03 -5.48V0.00L109.80 0.00ZM109.80 0.00L113.03 0.00V5.48L109.80 5.48ZM109.80 10.96L113.03 10.96V16.44L109.80 16.44ZM109.80 71.24L113.03 71.24V76.72L109.80 76.72ZM109.80 98.64L113.03 98.64V104.12L109.80 104.12ZM109.80 104.12L113.03 104.12V109.60L109.80 109.60ZM116.26 0.00L119.49 0.00V5.48L116.26 5.48ZM116.26 65.76L119.49 65.76V71.24L116.26 71.24ZM116.26 104.12L119.49 104.12V109.60L116.26 109.60Z" fill="rgba(255,245,110,0.14)"/><path d="M0.00 38.36L3.23 38.36V43.84L0.00 43.84ZM0.00 49.32L3.23 49.32V54.80L0.00 54.80ZM0.00 65.76L3.23 65.76V71.24L0.00 71.24ZM3.23 10.96L6.46 10.96V16.44L3.23 16.44ZM3.23 49.32L6.46 49.32V54.80L3.23 54.80ZM6.46 -5.48L9.69 -5.48V0.00L6.46 0.00ZM6.46 5.48L9.69 5.48V10.96L6.46 10.96ZM6.46 16.44L9.69 16.44V21.92L6.46 21.92ZM6.46 98.64L9.69 98.64V104.12L6.46 104.12ZM9.69 10.96L12.92 10.96V16.44L9.69 16.44ZM12.92 54.80L16.15 54.80V60.28L12.92 60.28ZM16.15 5.48L19.38 5.48V10.96L16.15 10.96ZM16.15 60.28L19.38 60.28V65.76L16.15 65.76ZM19.38 16.44L22.61 16.44V21.92L19.38 21.92ZM19.38 27.40L22.61 27.40V32.88L19.38 32.88ZM22.61 32.88L25.84 32.88V38.36L22.61 38.36ZM22.61 71.24L25.84 71.24V76.72L22.61 76.72ZM22.61 76.72L25.84 76.72V82.20L22.61 82.20ZM22.61 93.16L25.84 93.16V98.64L22.61 98.64ZM25.84 10.96L29.07 10.96V16.44L25.84 16.44ZM25.84 16.44L29.07 16.44V21.92L25.84 21.92ZM25.84 32.88L29.07 32.88V38.36L25.84 38.36ZM25.84 38.36L29.07 38.36V43.84L25.84 43.84ZM25.84 76.72L29.07 76.72V82.20L25.84 82.20ZM29.07 10.96L32.30 10.96V16.44L29.07 16.44ZM29.07 38.36L32.30 38.36V43.84L29.07 43.84ZM29.07 60.28L32.30 60.28V65.76L29.07 65.76ZM29.07 82.20L32.30 82.20V87.68L29.07 87.68ZM32.30 76.72L35.52 76.72V82.20L32.30 82.20ZM35.52 16.44L38.75 16.44V21.92L35.52 21.92ZM35.52 43.84L38.75 43.84V49.32L35.52 49.32ZM35.52 87.68L38.75 87.68V93.16L35.52 93.16ZM38.75 16.44L41.98 16.44V21.92L38.75 21.92ZM38.75 43.84L41.98 43.84V49.32L38.75 49.32ZM38.75 60.28L41.98 60.28V65.76L38.75 65.76ZM38.75 87.68L41.98 87.68V93.16L38.75 93.16ZM41.98 5.48L45.21 5.48V10.96L41.98 10.96ZM41.98 60.28L45.21 60.28V65.76L41.98 65.76ZM41.98 71.24L45.21 71.24V76.72L41.98 76.72ZM41.98 93.16L45.21 93.16V98.64L41.98 98.64ZM45.21 60.28L48.44 60.28V65.76L45.21 65.76ZM45.21 93.16L48.44 93.16V98.64L45.21 98.64ZM48.44 38.36L51.67 38.36V43.84L48.44 43.84ZM48.44 71.24L51.67 71.24V76.72L48.44 76.72ZM51.67 43.84L54.90 43.84V49.32L51.67 49.32ZM51.67 65.76L54.90 65.76V71.24L51.67 71.24ZM51.67 71.24L54.90 71.24V76.72L51.67 76.72ZM51.67 87.68L54.90 87.68V93.16L51.67 93.16ZM54.90 5.48L58.13 5.48V10.96L54.90 10.96ZM54.90 60.28L58.13 60.28V65.76L54.90 65.76ZM54.90 93.16L58.13 93.16V98.64L54.90 98.64ZM58.13 0.00L61.36 0.00V5.48L58.13 5.48ZM58.13 27.40L61.36 27.40V32.88L58.13 32.88ZM58.13 49.32L61.36 49.32V54.80L58.13 54.80ZM58.13 104.12L61.36 104.12V109.60L58.13 109.60ZM61.36 10.96L64.59 10.96V16.44L61.36 16.44ZM64.59 0.00L67.82 0.00V5.48L64.59 5.48ZM64.59 21.92L67.82 21.92V27.40L64.59 27.40ZM64.59 104.12L67.82 104.12V109.60L64.59 109.60ZM67.82 10.96L71.05 10.96V16.44L67.82 16.44ZM67.82 16.44L71.05 16.44V21.92L67.82 21.92ZM67.82 43.84L71.05 43.84V49.32L67.82 49.32ZM67.82 54.80L71.05 54.80V60.28L67.82 60.28ZM67.82 76.72L71.05 76.72V82.20L67.82 82.20ZM71.05 82.20L74.28 82.20V87.68L71.05 87.68ZM77.51 27.40L80.74 27.40V32.88L77.51 32.88ZM77.51 87.68L80.74 87.68V93.16L77.51 93.16ZM80.74 5.48L83.97 5.48V10.96L80.74 10.96ZM80.74 32.88L83.97 32.88V38.36L80.74 38.36ZM83.97 27.40L87.20 27.40V32.88L83.97 32.88ZM83.97 49.32L87.20 49.32V54.80L83.97 54.80ZM83.97 71.24L87.20 71.24V76.72L83.97 76.72ZM83.97 87.68L87.20 87.68V93.16L83.97 93.16ZM87.20 10.96L90.43 10.96V16.44L87.20 16.44ZM87.20 49.32L90.43 49.32V54.80L87.20 54.80ZM87.20 54.80L90.43 54.80V60.28L87.20 60.28ZM87.20 76.72L90.43 76.72V82.20L87.20 82.20ZM90.43 5.48L93.66 5.48V10.96L90.43 10.96ZM90.43 27.40L93.66 27.40V32.88L90.43 32.88ZM90.43 32.88L93.66 32.88V38.36L90.43 38.36ZM93.66 38.36L96.89 38.36V43.84L93.66 43.84ZM93.66 87.68L96.89 87.68V93.16L93.66 93.16ZM96.89 38.36L100.11 38.36V43.84L96.89 43.84ZM96.89 76.72L100.11 76.72V82.20L96.89 82.20ZM100.11 21.92L103.34 21.92V27.40L100.11 27.40ZM100.11 93.16L103.34 93.16V98.64L100.11 98.64ZM106.57 16.44L109.80 16.44V21.92L106.57 21.92ZM106.57 21.92L109.80 21.92V27.40L106.57 27.40ZM106.57 49.32L109.80 49.32V54.80L106.57 54.80ZM106.57 76.72L109.80 76.72V82.20L106.57 82.20ZM109.80 16.44L113.03 16.44V21.92L109.80 21.92ZM109.80 87.68L113.03 87.68V93.16L109.80 93.16ZM113.03 16.44L116.26 16.44V21.92L113.03 21.92ZM113.03 65.76L116.26 65.76V71.24L113.03 71.24ZM113.03 76.72L116.26 76.72V82.20L113.03 82.20ZM113.03 93.16L116.26 93.16V98.64L113.03 98.64ZM116.26 5.48L119.49 5.48V10.96L116.26 10.96ZM116.26 76.72L119.49 76.72V82.20L116.26 82.20Z" fill="rgba(40,15,0,0.30)"/><path d="M0.00 54.80L3.23 54.80V60.28L0.00 60.28ZM3.23 32.88L6.46 32.88V38.36L3.23 38.36ZM9.69 71.24L12.92 71.24V76.72L9.69 76.72ZM9.69 82.20L12.92 82.20V87.68L9.69 87.68ZM12.92 5.48L16.15 5.48V10.96L12.92 10.96ZM12.92 27.40L16.15 27.40V32.88L12.92 32.88ZM12.92 71.24L16.15 71.24V76.72L12.92 76.72ZM12.92 93.16L16.15 93.16V98.64L12.92 98.64ZM16.15 10.96L19.38 10.96V16.44L16.15 16.44ZM16.15 27.40L19.38 27.40V32.88L16.15 32.88ZM16.15 38.36L19.38 38.36V43.84L16.15 43.84ZM16.15 82.20L19.38 82.20V87.68L16.15 87.68ZM19.38 65.76L22.61 65.76V71.24L19.38 71.24ZM19.38 93.16L22.61 93.16V98.64L19.38 98.64ZM22.61 21.92L25.84 21.92V27.40L22.61 27.40ZM22.61 82.20L25.84 82.20V87.68L22.61 87.68ZM22.61 87.68L25.84 87.68V93.16L22.61 93.16ZM25.84 -5.48L29.07 -5.48V0.00L25.84 0.00ZM25.84 82.20L29.07 82.20V87.68L25.84 87.68ZM25.84 98.64L29.07 98.64V104.12L25.84 104.12ZM29.07 -5.48L32.30 -5.48V0.00L29.07 0.00ZM29.07 49.32L32.30 49.32V54.80L29.07 54.80ZM29.07 98.64L32.30 98.64V104.12L29.07 104.12ZM32.30 0.00L35.52 0.00V5.48L32.30 5.48ZM32.30 82.20L35.52 82.20V87.68L32.30 87.68ZM32.30 87.68L35.52 87.68V93.16L32.30 93.16ZM32.30 104.12L35.52 104.12V109.60L32.30 109.60ZM35.52 76.72L38.75 76.72V82.20L35.52 82.20ZM35.52 82.20L38.75 82.20V87.68L35.52 87.68ZM38.75 5.48L41.98 5.48V10.96L38.75 10.96ZM38.75 21.92L41.98 21.92V27.40L38.75 27.40ZM41.98 49.32L45.21 49.32V54.80L41.98 54.80ZM45.21 -5.48L48.44 -5.48V0.00L45.21 0.00ZM45.21 5.48L48.44 5.48V10.96L45.21 10.96ZM45.21 98.64L48.44 98.64V104.12L45.21 104.12ZM48.44 -5.48L51.67 -5.48V0.00L48.44 0.00ZM48.44 21.92L51.67 21.92V27.40L48.44 27.40ZM48.44 27.40L51.67 27.40V32.88L48.44 32.88ZM48.44 65.76L51.67 65.76V71.24L48.44 71.24ZM48.44 87.68L51.67 87.68V93.16L48.44 93.16ZM48.44 93.16L51.67 93.16V98.64L48.44 98.64ZM48.44 98.64L51.67 98.64V104.12L48.44 104.12ZM51.67 0.00L54.90 0.00V5.48L51.67 5.48ZM51.67 76.72L54.90 76.72V82.20L51.67 82.20ZM51.67 104.12L54.90 104.12V109.60L51.67 109.60ZM54.90 27.40L58.13 27.40V32.88L54.90 32.88ZM54.90 32.88L58.13 32.88V38.36L54.90 38.36ZM54.90 65.76L58.13 65.76V71.24L54.90 71.24ZM54.90 71.24L58.13 71.24V76.72L54.90 76.72ZM54.90 76.72L58.13 76.72V82.20L54.90 82.20ZM54.90 82.20L58.13 82.20V87.68L54.90 87.68ZM58.13 5.48L61.36 5.48V10.96L58.13 10.96ZM58.13 16.44L61.36 16.44V21.92L58.13 21.92ZM58.13 71.24L61.36 71.24V76.72L58.13 76.72ZM58.13 82.20L61.36 82.20V87.68L58.13 87.68ZM61.36 -5.48L64.59 -5.48V0.00L61.36 0.00ZM61.36 38.36L64.59 38.36V43.84L61.36 43.84ZM61.36 60.28L64.59 60.28V65.76L61.36 65.76ZM61.36 98.64L64.59 98.64V104.12L61.36 104.12ZM64.59 71.24L67.82 71.24V76.72L64.59 76.72ZM64.59 76.72L67.82 76.72V82.20L64.59 82.20ZM67.82 21.92L71.05 21.92V27.40L67.82 27.40ZM67.82 27.40L71.05 27.40V32.88L67.82 32.88ZM67.82 60.28L71.05 60.28V65.76L67.82 65.76ZM67.82 65.76L71.05 65.76V71.24L67.82 71.24ZM67.82 71.24L71.05 71.24V76.72L67.82 76.72ZM67.82 82.20L71.05 82.20V87.68L67.82 87.68ZM67.82 93.16L71.05 93.16V98.64L67.82 98.64ZM71.05 49.32L74.28 49.32V54.80L71.05 54.80ZM71.05 54.80L74.28 54.80V60.28L71.05 60.28ZM74.28 21.92L77.51 21.92V27.40L74.28 27.40ZM74.28 43.84L77.51 43.84V49.32L74.28 49.32ZM74.28 71.24L77.51 71.24V76.72L74.28 76.72ZM74.28 82.20L77.51 82.20V87.68L74.28 87.68ZM77.51 5.48L80.74 5.48V10.96L77.51 10.96ZM77.51 38.36L80.74 38.36V43.84L77.51 43.84ZM77.51 54.80L80.74 54.80V60.28L77.51 60.28ZM77.51 60.28L80.74 60.28V65.76L77.51 65.76ZM80.74 -5.48L83.97 -5.48V0.00L80.74 0.00ZM80.74 98.64L83.97 98.64V104.12L80.74 104.12ZM83.97 54.80L87.20 54.80V60.28L83.97 60.28ZM90.43 -5.48L93.66 -5.48V0.00L90.43 0.00ZM90.43 98.64L93.66 98.64V104.12L90.43 104.12ZM93.66 0.00L96.89 0.00V5.48L93.66 5.48ZM93.66 32.88L96.89 32.88V38.36L93.66 38.36ZM93.66 54.80L96.89 54.80V60.28L93.66 60.28ZM93.66 104.12L96.89 104.12V109.60L93.66 109.60ZM96.89 65.76L100.11 65.76V71.24L96.89 71.24ZM96.89 87.68L100.11 87.68V93.16L96.89 93.16ZM100.11 5.48L103.34 5.48V10.96L100.11 10.96ZM100.11 60.28L103.34 60.28V65.76L100.11 65.76ZM103.34 10.96L106.57 10.96V16.44L103.34 16.44ZM103.34 38.36L106.57 38.36V43.84L103.34 43.84ZM103.34 43.84L106.57 43.84V49.32L103.34 49.32ZM109.80 27.40L113.03 27.40V32.88L109.80 32.88ZM113.03 0.00L116.26 0.00V5.48L113.03 5.48ZM113.03 27.40L116.26 27.40V32.88L113.03 32.88ZM113.03 32.88L116.26 32.88V38.36L113.03 38.36ZM113.03 104.12L116.26 104.12V109.60L113.03 109.60ZM116.26 93.16L119.49 93.16V98.64L116.26 98.64Z" fill="rgba(255,240,150,0.26)"/><path d="M0.00 71.24L3.23 71.24V76.72L0.00 76.72ZM3.23 0.00L6.46 0.00V5.48L3.23 5.48ZM3.23 16.44L6.46 16.44V21.92L3.23 21.92ZM3.23 82.20L6.46 82.20V87.68L3.23 87.68ZM3.23 104.12L6.46 104.12V109.60L3.23 109.60ZM6.46 10.96L9.69 10.96V16.44L6.46 16.44ZM6.46 32.88L9.69 32.88V38.36L6.46 38.36ZM6.46 82.20L9.69 82.20V87.68L6.46 87.68ZM6.46 93.16L9.69 93.16V98.64L6.46 98.64ZM9.69 0.00L12.92 0.00V5.48L9.69 5.48ZM9.69 5.48L12.92 5.48V10.96L9.69 10.96ZM9.69 21.92L12.92 21.92V27.40L9.69 27.40ZM9.69 49.32L12.92 49.32V54.80L9.69 54.80ZM9.69 54.80L12.92 54.80V60.28L9.69 60.28ZM9.69 93.16L12.92 93.16V98.64L9.69 98.64ZM9.69 104.12L12.92 104.12V109.60L9.69 109.60ZM12.92 16.44L16.15 16.44V21.92L12.92 21.92ZM12.92 32.88L16.15 32.88V38.36L12.92 38.36ZM12.92 38.36L16.15 38.36V43.84L12.92 43.84ZM12.92 87.68L16.15 87.68V93.16L12.92 93.16ZM16.15 16.44L19.38 16.44V21.92L16.15 21.92ZM16.15 32.88L19.38 32.88V38.36L16.15 38.36ZM16.15 76.72L19.38 76.72V82.20L16.15 82.20ZM22.61 0.00L25.84 0.00V5.48L22.61 5.48ZM22.61 16.44L25.84 16.44V21.92L22.61 21.92ZM22.61 104.12L25.84 104.12V109.60L22.61 109.60ZM25.84 65.76L29.07 65.76V71.24L25.84 71.24ZM29.07 16.44L32.30 16.44V21.92L29.07 21.92ZM29.07 27.40L32.30 27.40V32.88L29.07 32.88ZM29.07 43.84L32.30 43.84V49.32L29.07 49.32ZM29.07 87.68L32.30 87.68V93.16L29.07 93.16ZM29.07 93.16L32.30 93.16V98.64L29.07 98.64ZM32.30 43.84L35.52 43.84V49.32L32.30 49.32ZM35.52 0.00L38.75 0.00V5.48L35.52 5.48ZM35.52 104.12L38.75 104.12V109.60L35.52 109.60ZM38.75 38.36L41.98 38.36V43.84L38.75 43.84ZM38.75 65.76L41.98 65.76V71.24L38.75 71.24ZM41.98 21.92L45.21 21.92V27.40L41.98 27.40ZM41.98 32.88L45.21 32.88V38.36L41.98 38.36ZM41.98 54.80L45.21 54.80V60.28L41.98 60.28ZM45.21 87.68L48.44 87.68V93.16L45.21 93.16ZM48.44 32.88L51.67 32.88V38.36L48.44 38.36ZM48.44 82.20L51.67 82.20V87.68L48.44 87.68ZM51.67 27.40L54.90 27.40V32.88L51.67 32.88ZM51.67 49.32L54.90 49.32V54.80L51.67 54.80ZM51.67 82.20L54.90 82.20V87.68L51.67 87.68ZM54.90 -5.48L58.13 -5.48V0.00L54.90 0.00ZM54.90 54.80L58.13 54.80V60.28L54.90 60.28ZM54.90 98.64L58.13 98.64V104.12L54.90 104.12ZM58.13 21.92L61.36 21.92V27.40L58.13 27.40ZM58.13 38.36L61.36 38.36V43.84L58.13 43.84ZM61.36 16.44L64.59 16.44V21.92L61.36 21.92ZM61.36 32.88L64.59 32.88V38.36L61.36 38.36ZM61.36 87.68L64.59 87.68V93.16L61.36 93.16ZM64.59 -5.48L67.82 -5.48V0.00L64.59 0.00ZM64.59 10.96L67.82 10.96V16.44L64.59 16.44ZM64.59 16.44L67.82 16.44V21.92L64.59 21.92ZM64.59 32.88L67.82 32.88V38.36L64.59 38.36ZM64.59 49.32L67.82 49.32V54.80L64.59 54.80ZM64.59 87.68L67.82 87.68V93.16L64.59 93.16ZM64.59 98.64L67.82 98.64V104.12L64.59 104.12ZM71.05 5.48L74.28 5.48V10.96L71.05 10.96ZM71.05 27.40L74.28 27.40V32.88L71.05 32.88ZM71.05 32.88L74.28 32.88V38.36L71.05 38.36ZM71.05 38.36L74.28 38.36V43.84L71.05 43.84ZM71.05 93.16L74.28 93.16V98.64L71.05 98.64ZM77.51 10.96L80.74 10.96V16.44L77.51 16.44ZM77.51 43.84L80.74 43.84V49.32L77.51 49.32ZM80.74 16.44L83.97 16.44V21.92L80.74 21.92ZM80.74 21.92L83.97 21.92V27.40L80.74 27.40ZM83.97 5.48L87.20 5.48V10.96L83.97 10.96ZM83.97 38.36L87.20 38.36V43.84L83.97 43.84ZM87.20 5.48L90.43 5.48V10.96L87.20 10.96ZM87.20 27.40L90.43 27.40V32.88L87.20 32.88ZM87.20 32.88L90.43 32.88V38.36L87.20 38.36ZM87.20 60.28L90.43 60.28V65.76L87.20 65.76ZM87.20 82.20L90.43 82.20V87.68L87.20 87.68ZM87.20 93.16L90.43 93.16V98.64L87.20 98.64ZM90.43 16.44L93.66 16.44V21.92L90.43 21.92ZM90.43 60.28L93.66 60.28V65.76L90.43 65.76ZM90.43 82.20L93.66 82.20V87.68L90.43 87.68ZM93.66 16.44L96.89 16.44V21.92L93.66 21.92ZM93.66 60.28L96.89 60.28V65.76L93.66 65.76ZM93.66 76.72L96.89 76.72V82.20L93.66 82.20ZM93.66 82.20L96.89 82.20V87.68L93.66 87.68ZM96.89 27.40L100.11 27.40V32.88L96.89 32.88ZM100.11 16.44L103.34 16.44V21.92L100.11 21.92ZM100.11 27.40L103.34 27.40V32.88L100.11 32.88ZM100.11 49.32L103.34 49.32V54.80L100.11 54.80ZM100.11 87.68L103.34 87.68V93.16L100.11 93.16ZM103.34 -5.48L106.57 -5.48V0.00L103.34 0.00ZM103.34 82.20L106.57 82.20V87.68L103.34 87.68ZM103.34 98.64L106.57 98.64V104.12L103.34 104.12ZM106.57 10.96L109.80 10.96V16.44L106.57 16.44ZM106.57 32.88L109.80 32.88V38.36L106.57 38.36ZM106.57 43.84L109.80 43.84V49.32L106.57 49.32ZM106.57 93.16L109.80 93.16V98.64L106.57 98.64ZM109.80 43.84L113.03 43.84V49.32L109.80 49.32ZM113.03 -5.48L116.26 -5.48V0.00L113.03 0.00ZM113.03 38.36L116.26 38.36V43.84L113.03 43.84ZM113.03 71.24L116.26 71.24V76.72L113.03 76.72ZM113.03 98.64L116.26 98.64V104.12L113.03 104.12ZM116.26 21.92L119.49 21.92V27.40L116.26 27.40ZM116.26 32.88L119.49 32.88V38.36L116.26 38.36ZM116.26 71.24L119.49 71.24V76.72L116.26 76.72Z" fill="rgba(30,15,0,0.22)"/><path d="M0.72 -5.48V109.60M3.95 -5.48V109.60M7.18 -5.48V109.60M10.41 -5.48V109.60M13.64 -5.48V109.60M16.87 -5.48V109.60M20.10 -5.48V109.60M23.33 -5.48V109.60M26.56 -5.48V109.60M29.79 -5.48V109.60M33.02 -5.48V109.60M36.25 -5.48V109.60M39.48 -5.48V109.60M42.71 -5.48V109.60M45.94 -5.48V109.60M49.17 -5.48V109.60M52.40 -5.48V109.60M55.63 -5.48V109.60M58.86 -5.48V109.60M62.09 -5.48V109.60M65.31 -5.48V109.60M68.54 -5.48V109.60M71.77 -5.48V109.60M75.00 -5.48V109.60M78.23 -5.48V109.60M81.46 -5.48V109.60M84.69 -5.48V109.60M87.92 -5.48V109.60M91.15 -5.48V109.60M94.38 -5.48V109.60M97.61 -5.48V109.60M100.84 -5.48V109.60M104.07 -5.48V109.60M107.30 -5.48V109.60M110.53 -5.48V109.60M113.76 -5.48V109.60M116.99 -5.48V109.60" stroke="rgba(20,8,0,0.8)" stroke-width="1.45" fill="none"/><path d="M0 -4.58H119.49M0 0.90H119.49M0 6.38H119.49M0 11.86H119.49M0 17.34H119.49M0 22.82H119.49M0 28.30H119.49M0 33.78H119.49M0 39.26H119.49M0 44.74H119.49M0 50.22H119.49M0 55.70H119.49M0 61.18H119.49M0 66.66H119.49M0 72.14H119.49M0 77.62H119.49M0 83.10H119.49M0 88.58H119.49M0 94.06H119.49M0 99.54H119.49M0 105.02H119.49M0 110.50H119.49" stroke="rgba(20,8,0,0.8)" stroke-width="1.80" fill="none"/></pattern>
<linearGradient id="gM" gradientUnits="userSpaceOnUse" x1="513.5" y1="0" x2="1193.1" y2="0"><stop offset="0" stop-color="#b07612"/><stop offset="0.3" stop-color="#ae8a18"/><stop offset="0.55" stop-color="#a8a224"/><stop offset="0.84" stop-color="#aeb230"/><stop offset="0.86" stop-color="#c4c63e"/><stop offset="1" stop-color="#c4c63e"/></linearGradient>
<filter id="bl" x="-2%" y="-2%" width="104%" height="104%" color-interpolation-filters="sRGB"><feConvolveMatrix order="3" kernelMatrix="1 2 1 2 5 2 1 2 1" edgeMode="duplicate" preserveAlpha="true"/></filter>
<clipPath id="c0"><polygon points="577.0,736.4 788.5,657.9 788.5,976.2 577.0,1054.8" /></clipPath><clipPath id="c1"><polygon points="513.5,725.0 577.0,737.5 577.0,1055.9 513.5,1043.4" /></clipPath><clipPath id="c2"><polygon points="361.9,816.3 577.0,736.4 577.0,1054.8 361.9,1134.7" /></clipPath><clipPath id="c3"><polygon points="577.0,737.5 1092.2,838.5 1092.2,1156.8 577.0,1055.9" /></clipPath><clipPath id="c4"><polygon points="1092.2,839.4 1306.4,759.9 1306.4,1078.5 1092.2,1158.0" /></clipPath><clipPath id="c5"><polygon points="1092.2,838.5 1193.1,858.2 1193.1,1176.6 1092.2,1156.8" /></clipPath><clipPath id="c6"><polygon points="879.3,918.4 1092.2,839.4 1092.2,1158.0 879.3,1237.0" /></clipPath>
</defs>
<g id="panel-a">
<ellipse cx="429.2" cy="217" rx="361.8" ry="138.5" fill="#d99694"/>
<path d="M63.4 76H794.6M63.4 354.5H794.6" stroke="#000" stroke-width="8.4" fill="none"/>
<path d="M63.3 75.8V354.6" stroke="#000" stroke-width="8.6" fill="none"/>
<path d="M793 75.6V352" stroke="#000" stroke-width="4.5" stroke-dasharray="18.5 13.9" fill="none"/>
<rect x="1177.6" y="94.3" width="34.4" height="103.6" fill="#948a54"/>
<rect x="1177.6" y="94.3" width="7" height="103.6" fill="#4a452a"/>
<rect x="1177.6" y="232.4" width="34.4" height="105.6" fill="#948a54"/>
<rect x="1177.6" y="232.4" width="7" height="105.6" fill="#4a452a"/>
<path d="M1246.6 76.1V352" stroke="#988e58" stroke-width="4.2" stroke-dasharray="18 14.4" fill="none"/>
<path d="M1428.5 198H1456.1V172.8H1550.3V262H1456.1V232.3H1428.5Z" fill="#c4bd97"/>
<path d="M31 217.4H1684.5" stroke="#558ed5" stroke-width="2.3" stroke-dasharray="12.2 4.2 2.4 4.2" fill="none"/>
<path d="M291.0 104.6L1412.4 244.5" stroke="#0a0a0a" stroke-width="1.9" fill="none"/><polygon points="1428.8,246.5 1409.4,252.9 1411.5,235.5" fill="#000"/>
<path d="M589.0 328.9L1492.7 158.6" stroke="#0a0a0a" stroke-width="1.9" fill="none"/><polygon points="1508.9,155.5 1492.4,167.6 1489.1,150.3" fill="#000"/>
<rect x="275" y="92" width="18.3" height="23" rx="2.5" fill="#000"/>
<rect x="572" y="317.7" width="18.5" height="25.1" rx="2.5" fill="#000"/>
<text class="ab" x="512" y="52.7" font-size="38" textLength="559.6" lengthAdjust="spacingAndGlyphs">Mesh (Transparency = 56%)</text>
<text class="ab" x="1329.3" y="122.2" font-size="38" textLength="496.4" lengthAdjust="spacingAndGlyphs">Non-interception by CCD</text>
<text class="ab" x="965.4" y="395.3" font-size="37.5" textLength="502.3" lengthAdjust="spacingAndGlyphs">Absorption by Al window</text>
<text class="sr" y="471.3" font-size="55"><tspan x="896">(</tspan><tspan x="913.6" font-weight="bold" font-size="54">a</tspan><tspan x="940">)</tspan></text>
</g>
<g id="panel-b">
<line x1="290.1" y1="747.2" x2="290.1" y2="1185.6" stroke="#e8e8e8" stroke-width="1.6" fill="none"/><line x1="510.7" y1="665.3" x2="510.7" y2="1103.7" stroke="#e8e8e8" stroke-width="1.6" fill="none"/><line x1="731.3" y1="583.4" x2="731.3" y2="1021.8" stroke="#e8e8e8" stroke-width="1.6" fill="none"/><line x1="804.8" y1="556.1" x2="804.8" y2="994.5" stroke="#e8e8e8" stroke-width="1.6" fill="none"/><line x1="218.1" y1="828.8" x2="804.8" y2="610.9" stroke="#e8e8e8" stroke-width="1.6" fill="none"/><line x1="218.1" y1="993.2" x2="804.8" y2="775.3" stroke="#e8e8e8" stroke-width="1.6" fill="none"/><line x1="218.1" y1="1157.6" x2="804.8" y2="939.7" stroke="#e8e8e8" stroke-width="1.6" fill="none"/><line x1="218.1" y1="1212.4" x2="804.8" y2="994.5" stroke="#e8e8e8" stroke-width="1.6" fill="none"/><line x1="1127.8" y1="619.4" x2="1127.8" y2="1057.8" stroke="#e8e8e8" stroke-width="1.6" fill="none"/><line x1="1450.7" y1="682.7" x2="1450.7" y2="1121.1" stroke="#e8e8e8" stroke-width="1.6" fill="none"/><line x1="804.8" y1="610.9" x2="1610.9" y2="768.9" stroke="#e8e8e8" stroke-width="1.6" fill="none"/><line x1="804.8" y1="775.3" x2="1610.9" y2="933.3" stroke="#e8e8e8" stroke-width="1.6" fill="none"/><line x1="804.8" y1="939.7" x2="1610.9" y2="1097.7" stroke="#e8e8e8" stroke-width="1.6" fill="none"/><line x1="290.1" y1="1185.6" x2="1096.2" y2="1343.6" stroke="#e8e8e8" stroke-width="1.6" fill="none"/><line x1="510.7" y1="1103.7" x2="1316.8" y2="1261.7" stroke="#e8e8e8" stroke-width="1.6" fill="none"/><line x1="731.3" y1="1021.8" x2="1537.4" y2="1179.8" stroke="#e8e8e8" stroke-width="1.6" fill="none"/><line x1="541.0" y1="1275.7" x2="1127.8" y2="1057.8" stroke="#e8e8e8" stroke-width="1.6" fill="none"/><line x1="864.0" y1="1339.0" x2="1450.7" y2="1121.1" stroke="#e8e8e8" stroke-width="1.6" fill="none"/>
<line x1="218.1" y1="774.0" x2="804.8" y2="556.1" stroke="#484848" stroke-width="1.9" fill="none"/>
<line x1="804.8" y1="556.1" x2="1610.9" y2="714.1" stroke="#484848" stroke-width="1.9" fill="none"/>
<line x1="218.1" y1="774.0" x2="218.1" y2="1212.4" stroke="#484848" stroke-width="1.9" fill="none"/>
<line x1="290.1" y1="747.2" x2="290.1" y2="726.7" stroke="#484848" stroke-width="1.9" fill="none"/><line x1="510.7" y1="665.3" x2="510.7" y2="644.8" stroke="#484848" stroke-width="1.9" fill="none"/><line x1="731.3" y1="583.4" x2="731.3" y2="562.9" stroke="#484848" stroke-width="1.9" fill="none"/><line x1="804.8" y1="556.1" x2="824.0" y2="548.5" stroke="#484848" stroke-width="1.9" fill="none"/><line x1="1127.8" y1="619.4" x2="1147.0" y2="611.8" stroke="#484848" stroke-width="1.9" fill="none"/><line x1="1450.7" y1="682.7" x2="1469.9" y2="675.1" stroke="#484848" stroke-width="1.9" fill="none"/><line x1="218.1" y1="828.8" x2="198.1" y2="836.2" stroke="#484848" stroke-width="1.9" fill="none"/><line x1="218.1" y1="993.2" x2="198.1" y2="1000.6" stroke="#484848" stroke-width="1.9" fill="none"/><line x1="218.1" y1="1157.6" x2="198.1" y2="1165.0" stroke="#484848" stroke-width="1.9" fill="none"/>
<g clip-path="url(#c0)"><g filter="url(#bl)"><polygon points="347.1,810.8 803.2,641.4 803.2,981.7 347.1,1151.1" fill="#f2b226"/><polygon points="376.6,799.9 383.9,797.1 383.9,1137.4 376.6,1140.2" fill="#b80c10"/><polygon points="759.1,657.8 766.4,655.1 766.4,995.4 759.1,998.1" fill="#b80c10"/><polygon points="347.1,810.8 803.2,641.4 803.2,981.7 347.1,1151.1" fill="url(#mL)"/><polygon points="347.1,810.8 376.6,799.9 376.6,1140.2 347.1,1151.1" fill="#030000"/><polygon points="766.4,655.1 803.2,641.4 803.2,981.7 766.4,995.4" fill="#030000"/></g></g>
<g clip-path="url(#c1)"><g filter="url(#bl)"><polygon points="500.6,711.5 1206.0,849.8 1206.0,1190.1 500.6,1051.9" fill="url(#gM)"/><polygon points="500.6,711.5 1206.0,849.8 1206.0,1190.1 500.6,1051.9" fill="url(#mM)"/></g></g>
<g clip-path="url(#c2)"><g filter="url(#bl)"><polygon points="347.1,810.8 803.2,641.4 803.2,981.7 347.1,1151.1" fill="#f2b226"/><polygon points="376.6,799.9 383.9,797.1 383.9,1137.4 376.6,1140.2" fill="#b80c10"/><polygon points="759.1,657.8 766.4,655.1 766.4,995.4 759.1,998.1" fill="#b80c10"/><polygon points="347.1,810.8 803.2,641.4 803.2,981.7 347.1,1151.1" fill="url(#mL)"/><polygon points="347.1,810.8 376.6,799.9 376.6,1140.2 347.1,1151.1" fill="#030000"/><polygon points="766.4,655.1 803.2,641.4 803.2,981.7 766.4,995.4" fill="#030000"/></g></g>
<g clip-path="url(#c3)"><g filter="url(#bl)"><polygon points="500.6,711.5 1206.0,849.8 1206.0,1190.1 500.6,1051.9" fill="url(#gM)"/><polygon points="500.6,711.5 1206.0,849.8 1206.0,1190.1 500.6,1051.9" fill="url(#mM)"/></g></g>
<g clip-path="url(#c4)"><g filter="url(#bl)"><polygon points="864.6,912.9 1321.1,743.4 1321.1,1084.0 864.6,1253.5" fill="#fbf84e"/><polygon points="864.6,912.9 1321.1,743.4 1321.1,1084.0 864.6,1253.5" fill="url(#mR)"/><polygon points="864.6,912.9 921.2,891.9 921.2,1232.4 864.6,1253.5" fill="#030000"/><polygon points="1254.2,768.3 1321.1,743.4 1321.1,1084.0 1254.2,1108.8" fill="#030000"/></g></g>
<g clip-path="url(#c5)"><g filter="url(#bl)"><polygon points="500.6,711.5 1206.0,849.8 1206.0,1190.1 500.6,1051.9" fill="url(#gM)"/><polygon points="500.6,711.5 1206.0,849.8 1206.0,1190.1 500.6,1051.9" fill="url(#mM)"/></g></g>
<g clip-path="url(#c6)"><g filter="url(#bl)"><polygon points="864.6,912.9 1321.1,743.4 1321.1,1084.0 864.6,1253.5" fill="#fbf84e"/><polygon points="864.6,912.9 1321.1,743.4 1321.1,1084.0 864.6,1253.5" fill="url(#mR)"/><polygon points="864.6,912.9 921.2,891.9 921.2,1232.4 864.6,1253.5" fill="#030000"/><polygon points="1254.2,768.3 1321.1,743.4 1321.1,1084.0 1254.2,1108.8" fill="#030000"/></g></g>
<text class="ml" x="432.0" y="538.0" font-size="34.6" text-anchor="start" textLength="90" lengthAdjust="spacingAndGlyphs">Y (m)</text>
<text class="ml" x="1111.3" y="523.7" font-size="34.6" text-anchor="start" textLength="89" lengthAdjust="spacingAndGlyphs">Z (m)</text>
<text class="ml" x="217.1" y="707.6" font-size="31.5" text-anchor="start">-0.03</text>
<text class="ml" x="493.7" y="624.3" font-size="31.5" text-anchor="start">0</text>
<text class="ml" x="668.4" y="542.9" font-size="31.5" text-anchor="start">0.03</text>
<text class="ml" x="836.9" y="535.4" font-size="31.5" text-anchor="start">0</text>
<text class="ml" x="1158.4" y="600.6" font-size="31.5" text-anchor="start">0.1</text>
<text class="ml" x="1480.5" y="664.2" font-size="31.5" text-anchor="start">0.2</text>
<text class="ml" x="186.0" y="853.5" font-size="31.5" text-anchor="end">-0.03</text>
<text class="ml" x="186.0" y="1017.4" font-size="31.5" text-anchor="end">0</text>
<text class="ml" x="186.0" y="1180.9" font-size="31.5" text-anchor="end">0.03</text>
<text class="ml" font-size="34.6" transform="translate(93.6 1039.5) rotate(-90)" textLength="87.5" lengthAdjust="spacingAndGlyphs">X (m)</text>
<path d="M267.4 1221.5L1055.8 1393.3" stroke="#000" stroke-width="8.4" stroke-linecap="butt" fill="none"/>
<path d="M1031.5 1372.5L1054.8 1393.2L1024.5 1403.3" stroke="#000" stroke-width="8.4" stroke-linecap="round" stroke-linejoin="miter" fill="none"/>
<text class="ab" x="1082" y="1407.6" font-size="35.5" textLength="305.5" lengthAdjust="spacingAndGlyphs">Towards pinhole</text>
<rect x="1677.0" y="555.4" width="43.7" height="815.8" fill="url(#hot)" stroke="#1c1c1c" stroke-opacity="0.6" stroke-width="1.5"/>
<text class="ml" x="1732.5" y="1384.8" font-size="32.0" text-anchor="start">0</text>
<path d="M1715.7 1193.0H1720.7" stroke="#262626" stroke-opacity="0.75" stroke-width="1.6"/>
<text class="ml" x="1732.5" y="1206.8" font-size="32.0" text-anchor="start">0.5</text>
<path d="M1715.7 1015.1H1720.7" stroke="#262626" stroke-opacity="0.75" stroke-width="1.6"/>
<text class="ml" x="1732.5" y="1028.9" font-size="32.0" text-anchor="start">1</text>
<path d="M1715.7 837.2H1720.7" stroke="#262626" stroke-opacity="0.75" stroke-width="1.6"/>
<text class="ml" x="1732.5" y="851.0" font-size="32.0" text-anchor="start">1.5</text>
<path d="M1715.7 659.2H1720.7" stroke="#262626" stroke-opacity="0.75" stroke-width="1.6"/>
<text class="ml" x="1732.5" y="673.0" font-size="32.0" text-anchor="start">2</text>
<text class="ml" x="1723" y="540.3" font-size="31.5"><tspan font-family="DejaVu Sans,sans-serif" font-weight="normal" font-size="27">×</tspan><tspan x="1750" font-size="29.5">10</tspan><tspan x="1783" dy="-14.6" font-size="25">-10</tspan></text>
<text class="sr" y="1482.4" font-size="55"><tspan x="894">(</tspan><tspan x="911.3" font-weight="bold">b</tspan><tspan x="942">)</tspan></text>
</g>
</svg></body></html>
